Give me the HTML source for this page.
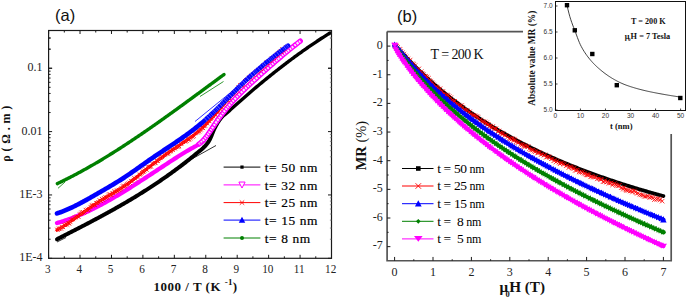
<!DOCTYPE html>
<html><head><meta charset="utf-8"><title>Resistivity and MR plots</title><style>html,body{margin:0;padding:0;background:#fff;}svg{display:block;}</style></head><body>
<svg width="688" height="300" viewBox="0 0 688 300">
<rect width="688" height="300" fill="#fff"/>
<text x="55" y="21.4" font-family='"Liberation Sans", sans-serif' font-size="16.5" fill="#111">(a)</text>
<path d="M57.00,239.22 L58.14,238.64 L59.28,238.06 L60.43,237.48 L61.57,236.89 L62.71,236.31 L63.85,235.73 L65.00,235.15 L66.14,234.56 L67.28,233.98 L68.42,233.40 L69.56,232.81 L70.71,232.23 L71.85,231.64 L72.99,231.06 L74.13,230.47 L75.28,229.88 L76.42,229.29 L77.56,228.70 L78.70,228.12 L79.85,227.52 L80.99,226.93 L82.13,226.34 L83.27,225.75 L84.41,225.15 L85.56,224.56 L86.70,223.96 L87.84,223.36 L88.98,222.76 L90.13,222.16 L91.27,221.56 L92.41,220.96 L93.55,220.35 L94.69,219.74 L95.84,219.14 L96.98,218.53 L98.12,217.92 L99.26,217.30 L100.41,216.69 L101.55,216.07 L102.69,215.45 L103.83,214.83 L104.97,214.21 L106.12,213.58 L107.26,212.96 L108.40,212.33 L109.54,211.70 L110.69,211.06 L111.83,210.43 L112.97,209.79 L114.11,209.15 L115.26,208.51 L116.40,207.86 L117.54,207.22 L118.68,206.57 L119.82,205.91 L120.97,205.26 L122.11,204.60 L123.25,203.94 L124.39,203.28 L125.54,202.61 L126.68,201.94 L127.82,201.27 L128.96,200.59 L130.10,199.91 L131.25,199.23 L132.39,198.55 L133.53,197.86 L134.67,197.17 L135.82,196.47 L136.96,195.78 L138.10,195.08 L139.24,194.37 L140.38,193.66 L141.53,192.95 L142.67,192.24 L143.81,191.52 L144.95,190.80 L146.10,190.07 L147.24,189.34 L148.38,188.61 L149.52,187.87 L150.67,187.13 L151.81,186.38 L152.95,185.63 L154.09,184.88 L155.23,184.12 L156.38,183.36 L157.52,182.59 L158.66,181.82 L159.80,181.05 L160.95,180.27 L162.09,179.48 L163.23,178.69 L164.37,177.90 L165.51,177.10 L166.66,176.30 L167.80,175.50 L168.94,174.68 L170.08,173.87 L171.23,173.05 L172.37,172.22 L173.51,171.39 L174.65,170.56 L175.79,169.72 L176.94,168.87 L178.08,168.02 L179.22,167.16 L180.36,166.30 L181.51,165.44 L182.65,164.56 L183.79,163.69 L184.93,162.80 L186.08,161.92 L187.22,161.02 L188.36,160.12 L189.50,159.22 L190.64,158.31 L191.79,157.39 L192.93,156.47 L194.07,155.54 L195.21,154.61 L196.36,153.67 L197.50,152.73 L198.64,151.78 L199.78,150.86 L200.92,149.94 L202.07,148.98 L203.21,147.92 L204.35,146.78 L205.49,145.56 L206.64,144.25 L207.78,142.78 L208.92,141.12 L210.06,139.04 L211.21,136.45 L212.35,133.60 L213.49,130.76 L214.63,128.22 L215.77,126.07 L216.92,124.02 L218.06,122.09 L219.20,120.32 L220.34,118.77 L221.49,117.48" fill="none" stroke="#000" stroke-width="4.0" stroke-linejoin="round" stroke-linecap="round"/>
<path d="M220.34,118.77 L221.49,117.48 L222.63,116.41 L223.77,115.47 L224.91,114.59 L226.05,113.71 L227.20,112.75 L228.34,111.72 L229.48,110.67 L230.62,109.62 L231.77,108.58 L232.91,107.55 L234.05,106.52 L235.19,105.50 L236.33,104.48 L237.48,103.46 L238.62,102.44 L239.76,101.43 L240.90,100.42 L242.05,99.42 L243.19,98.42 L244.33,97.42 L245.47,96.42 L246.62,95.43 L247.76,94.44 L248.90,93.46 L250.04,92.48 L251.18,91.50 L252.33,90.52 L253.47,89.55 L254.61,88.58 L255.75,87.62 L256.90,86.66 L258.04,85.70 L259.18,84.75 L260.32,83.79 L261.46,82.85 L262.61,81.90 L263.75,80.96 L264.89,80.03 L266.03,79.10 L267.18,78.17 L268.32,77.24 L269.46,76.32 L270.60,75.40 L271.74,74.49 L272.89,73.57 L274.03,72.67 L275.17,71.76 L276.31,70.86 L277.46,69.97 L278.60,69.07 L279.74,68.19 L280.88,67.30 L282.03,66.42 L283.17,65.54 L284.31,64.67 L285.45,63.80 L286.59,62.93 L287.74,62.07 L288.88,61.21 L290.02,60.36 L291.16,59.51 L292.31,58.66 L293.45,57.82 L294.59,56.98 L295.73,56.14 L296.87,55.31 L298.02,54.49 L299.16,53.66 L300.30,52.84 L301.44,52.03 L302.59,51.22 L303.73,50.41 L304.87,49.61 L306.01,48.81 L307.15,48.01 L308.30,47.22 L309.44,46.43 L310.58,45.65 L311.72,44.87 L312.87,44.10 L314.01,43.33 L315.15,42.56 L316.29,41.80 L317.44,41.04 L318.58,40.29 L319.72,39.54 L320.86,38.79 L322.00,38.05 L323.15,37.32 L324.29,36.58 L325.43,35.85 L326.57,35.13 L327.72,34.41 L328.86,33.70 L330.00,32.98" fill="none" stroke="#000" stroke-width="3.4" stroke-linejoin="round" stroke-linecap="round"/>
<path d="M57.00,223.01 L58.22,222.67 L59.45,222.32 L60.67,221.96 L61.89,221.59 L63.11,221.21 L64.34,220.82 L65.56,220.41 L66.78,220.00 L68.00,219.58 L69.23,219.14 L70.45,218.70 L71.67,218.25 L72.89,217.78 L74.12,217.31 L75.34,216.83 L76.56,216.33 L77.78,215.83 L79.01,215.32 L80.23,214.80 L81.45,214.28 L82.67,213.74 L83.90,213.20 L85.12,212.64 L86.34,212.08 L87.57,211.51 L88.79,210.94 L90.01,210.35 L91.23,209.76 L92.46,209.16 L93.68,208.55 L94.90,207.94 L96.12,207.31 L97.35,206.68 L98.57,206.05 L99.79,205.41 L101.01,204.76 L102.24,204.10 L103.46,203.44 L104.68,202.77 L105.90,202.10 L107.13,201.42 L108.35,200.73 L109.57,200.04 L110.79,199.34 L112.02,198.64 L113.24,197.93 L114.46,197.22 L115.69,196.50 L116.91,195.78 L118.13,195.05 L119.35,194.32 L120.58,193.59 L121.80,192.85 L123.02,192.10 L124.24,191.35 L125.47,190.60 L126.69,189.85 L127.91,189.09 L129.13,188.32 L130.36,187.56 L131.58,186.79 L132.80,186.01 L134.02,185.24 L135.25,184.46 L136.47,183.68 L137.69,182.89 L138.92,182.11 L140.14,181.32 L141.36,180.53 L142.58,179.74 L143.81,178.94 L145.03,178.15 L146.25,177.35 L147.47,176.55 L148.70,175.75 L149.92,174.95 L151.14,174.15 L152.36,173.34 L153.59,172.54 L154.81,171.73 L156.03,170.93 L157.25,170.12 L158.48,169.32 L159.70,168.51 L160.92,167.70 L162.14,166.90 L163.37,166.09 L164.59,165.29 L165.81,164.48 L167.04,163.68 L168.26,162.88 L169.48,162.07 L170.70,161.27 L171.93,160.47 L173.15,159.68 L174.37,158.88 L175.59,158.09 L176.82,157.31 L178.04,156.53 L179.26,155.75 L180.48,154.99 L181.71,154.22 L182.93,153.47 L184.15,152.73 L185.37,152.00 L186.60,151.27 L187.82,150.56 L189.04,149.86 L190.26,149.17 L191.49,148.49 L192.71,147.83 L193.93,147.17 L195.16,146.49 L196.38,145.77 L197.60,145.01 L198.82,144.18 L200.05,143.26 L201.27,142.24 L202.49,141.10 L203.71,139.82 L204.94,138.41 L206.16,136.87 L207.38,135.23 L208.60,133.51 L209.83,131.73 L211.05,129.90 L212.27,128.06 L213.49,126.21 L214.72,124.37 L215.94,122.57 L217.16,120.81 L218.38,119.09 L219.61,117.41 L220.83,115.76 L222.05,114.15 L223.28,112.57 L224.50,111.03 L225.72,109.51 L226.94,108.03 L228.17,106.58 L229.39,105.15 L230.61,103.75 L231.83,102.38 L233.06,101.03 L234.28,99.70 L235.50,98.40 L236.72,97.11 L237.95,95.85 L239.17,94.60 L240.39,93.38 L241.61,92.17 L242.84,90.97 L244.06,89.79 L245.28,88.62 L246.51,87.46 L247.73,86.31 L248.95,85.17 L250.17,84.04 L251.40,82.91 L252.62,81.79 L253.84,80.68 L255.06,79.57 L256.29,78.46 L257.51,77.35 L258.73,76.24 L259.95,75.14 L261.18,74.04 L262.40,72.94 L263.62,71.85 L264.84,70.75 L266.07,69.66 L267.29,68.58 L268.51,67.50 L269.73,66.42 L270.96,65.34 L272.18,64.27 L273.40,63.21 L274.63,62.14 L275.85,61.09 L277.07,60.03 L278.29,58.99 L279.52,57.94 L280.74,56.90 L281.96,55.87 L283.18,54.84 L284.41,53.82 L285.63,52.80 L286.85,51.79 L288.07,50.78 L289.30,49.78 L290.52,48.79 L291.74,47.80 L292.96,46.82 L294.19,45.85 L295.41,44.88 L296.63,43.92 L297.85,42.97 L299.08,42.02 L300.30,41.08" fill="none" stroke="#ff00ff" stroke-width="4.3" stroke-linejoin="round" stroke-linecap="round"/>
<path d="M198.82,144.18 L200.05,143.26 L201.27,142.24 L202.49,141.10 L203.71,139.82 L204.94,138.41 L206.16,136.87 L207.38,135.23 L208.60,133.51 L209.83,131.73 L211.05,129.90 L212.27,128.06 L213.49,126.21 L214.72,124.37 L215.94,122.57 L217.16,120.81 L218.38,119.09 L219.61,117.41 L220.83,115.76 L222.05,114.15 L223.28,112.57 L224.50,111.03 L225.72,109.51 L226.94,108.03 L228.17,106.58 L229.39,105.15 L230.61,103.75 L231.83,102.38 L233.06,101.03 L234.28,99.70 L235.50,98.40 L236.72,97.11 L237.95,95.85 L239.17,94.60 L240.39,93.38 L241.61,92.17 L242.84,90.97 L244.06,89.79 L245.28,88.62 L246.51,87.46 L247.73,86.31 L248.95,85.17 L250.17,84.04 L251.40,82.91 L252.62,81.79 L253.84,80.68 L255.06,79.57 L256.29,78.46 L257.51,77.35 L258.73,76.24 L259.95,75.14 L261.18,74.04 L262.40,72.94 L263.62,71.85 L264.84,70.75 L266.07,69.66 L267.29,68.58 L268.51,67.50 L269.73,66.42 L270.96,65.34 L272.18,64.27 L273.40,63.21 L274.63,62.14 L275.85,61.09 L277.07,60.03 L278.29,58.99 L279.52,57.94 L280.74,56.90 L281.96,55.87 L283.18,54.84 L284.41,53.82 L285.63,52.80 L286.85,51.79 L288.07,50.78 L289.30,49.78 L290.52,48.79 L291.74,47.80 L292.96,46.82 L294.19,45.85 L295.41,44.88 L296.63,43.92 L297.85,42.97 L299.08,42.02 L300.30,41.08" fill="none" stroke="#ff00ff" stroke-width="5.2" stroke-linejoin="round" stroke-linecap="round"/>
<path d="M198.82,144.18 L200.05,143.26 L201.27,142.24 L202.49,141.10 L203.71,139.82 L204.94,138.41 L206.16,136.87 L207.38,135.23 L208.60,133.51 L209.83,131.73 L211.05,129.90 L212.27,128.06 L213.49,126.21 L214.72,124.37 L215.94,122.57 L217.16,120.81 L218.38,119.09 L219.61,117.41 L220.83,115.76 L222.05,114.15 L223.28,112.57 L224.50,111.03 L225.72,109.51 L226.94,108.03 L228.17,106.58 L229.39,105.15 L230.61,103.75 L231.83,102.38 L233.06,101.03 L234.28,99.70 L235.50,98.40 L236.72,97.11 L237.95,95.85 L239.17,94.60 L240.39,93.38 L241.61,92.17 L242.84,90.97 L244.06,89.79 L245.28,88.62 L246.51,87.46 L247.73,86.31 L248.95,85.17 L250.17,84.04 L251.40,82.91 L252.62,81.79 L253.84,80.68 L255.06,79.57 L256.29,78.46 L257.51,77.35 L258.73,76.24 L259.95,75.14 L261.18,74.04 L262.40,72.94 L263.62,71.85 L264.84,70.75 L266.07,69.66 L267.29,68.58 L268.51,67.50 L269.73,66.42 L270.96,65.34 L272.18,64.27 L273.40,63.21 L274.63,62.14 L275.85,61.09 L277.07,60.03 L278.29,58.99 L279.52,57.94 L280.74,56.90 L281.96,55.87 L283.18,54.84 L284.41,53.82 L285.63,52.80 L286.85,51.79 L288.07,50.78 L289.30,49.78 L290.52,48.79 L291.74,47.80 L292.96,46.82 L294.19,45.85 L295.41,44.88 L296.63,43.92 L297.85,42.97 L299.08,42.02 L300.30,41.08" fill="none" stroke="#fff" stroke-width="2.3" stroke-dasharray="1.62 0.89 1.95 0.84 1.84 1.02 1.36 1.10 1.34 1.06 1.37 0.85 1.72 1.30 1.42 0.93 1.93 1.37 1.88 1.04 2.28 0.83 2.16 0.97 1.44 0.87 1.61 1.29 1.48 1.15 1.94 1.02 1.85 0.84 1.36 0.92 1.98 1.06 1.61 1.15 1.75 0.98 2.09 1.22 1.54 1.14 1.83 1.33 2.03 0.97 2.28 0.87 1.72 1.25 1.45 1.09 1.34 1.20 2.06 1.14 2.18 0.99 2.00 1.16 1.88 1.07 2.14 1.37 1.77 1.20 1.36 1.22 1.95 1.40 2.12 0.97 1.69 1.20 1.32 1.08" opacity="0.9"/>
<path d="M57.00,230.12 L58.15,229.46 L59.30,228.79 L60.45,228.09 L61.60,227.39 L62.75,226.67 L63.90,225.94 L65.06,225.20 L66.21,224.44 L67.36,223.68 L68.51,222.91 L69.66,222.12 L70.81,221.33 L71.96,220.54 L73.11,219.73 L74.26,218.92 L75.41,218.11 L76.56,217.29 L77.71,216.47 L78.86,215.65 L80.02,214.82 L81.17,213.99 L82.32,213.16 L83.47,212.34 L84.62,211.51 L85.77,210.69 L86.92,209.87 L88.07,209.05 L89.22,208.24 L90.37,207.43 L91.52,206.63 L92.67,205.83 L93.82,205.05 L94.97,204.27 L96.13,203.50 L97.28,202.74 L98.43,201.99 L99.58,201.25 L100.73,200.52 L101.88,199.80 L103.03,199.10 L104.18,198.40 L105.33,197.71 L106.48,197.03 L107.63,196.35 L108.78,195.67 L109.93,195.00 L111.09,194.33 L112.24,193.65 L113.39,192.97 L114.54,192.29 L115.69,191.61 L116.84,190.92 L117.99,190.21 L119.14,189.51 L120.29,188.78 L121.44,188.05 L122.59,187.31 L123.74,186.55 L124.89,185.77 L126.05,184.98 L127.20,184.16 L128.35,183.34 L129.50,182.50 L130.65,181.64 L131.80,180.78 L132.95,179.90 L134.10,179.02 L135.25,178.12 L136.40,177.22 L137.55,176.31 L138.70,175.40 L139.85,174.48 L141.01,173.56 L142.16,172.63 L143.31,171.71 L144.46,170.79 L145.61,169.87 L146.76,168.95 L147.91,168.04 L149.06,167.13 L150.21,166.23 L151.36,165.33 L152.51,164.45 L153.66,163.57 L154.81,162.69 L155.96,161.83 L157.12,160.96 L158.27,160.11 L159.42,159.26 L160.57,158.42 L161.72,157.58 L162.87,156.75 L164.02,155.92 L165.17,155.09 L166.32,154.27 L167.47,153.46 L168.62,152.65 L169.77,151.84 L170.92,151.04 L172.08,150.24 L173.23,149.44 L174.38,148.65 L175.53,147.86 L176.68,147.07 L177.83,146.28 L178.98,145.50 L180.13,144.72 L181.28,143.94 L182.43,143.16 L183.58,142.37 L184.73,141.59 L185.88,140.80 L187.04,140.00 L188.19,139.19 L189.34,138.37 L190.49,137.54 L191.64,136.70 L192.79,135.84 L193.94,134.96 L195.09,134.07 L196.24,133.15 L197.39,132.21 L198.54,131.25 L199.69,130.26 L200.84,129.24 L201.99,128.20 L203.15,127.12 L204.30,126.01 L205.45,124.87 L206.60,123.70 L207.75,122.51 L208.90,121.29 L210.05,120.05 L211.20,118.79 L212.35,117.51 L213.50,116.21 L214.65,114.90 L215.80,113.59 L216.95,112.26 L218.11,110.92 L219.26,109.59 L220.41,108.25 L221.56,106.91 L222.71,105.57 L223.86,104.23 L225.01,102.91 L226.16,101.59 L227.31,100.29 L228.46,98.99 L229.61,97.71 L230.76,96.44 L231.91,95.19 L233.07,93.94 L234.22,92.71 L235.37,91.50 L236.52,90.30 L237.67,89.11 L238.82,87.93 L239.97,86.78 L241.12,85.63 L242.27,84.50 L243.42,83.39 L244.57,82.29 L245.72,81.20 L246.87,80.13 L248.03,79.08 L249.18,78.04 L250.33,77.01 L251.48,75.99 L252.63,74.99 L253.78,73.99 L254.93,73.01 L256.08,72.03 L257.23,71.06 L258.38,70.10 L259.53,69.14 L260.68,68.19 L261.83,67.25 L262.98,66.30 L264.14,65.36 L265.29,64.43 L266.44,63.49 L267.59,62.56 L268.74,61.62 L269.89,60.68 L271.04,59.75 L272.19,58.80 L273.34,57.86 L274.49,56.91 L275.64,55.96 L276.79,55.00 L277.94,54.03 L279.10,53.05 L280.25,52.07 L281.40,51.08 L282.55,50.08 L283.70,49.06 L284.85,48.04 L286.00,47.00" fill="none" stroke="#ff0000" stroke-width="3.0" stroke-linejoin="round" stroke-linecap="round"/>
<path d="M55.2,227.7l3.5,3.5M55.2,231.2l3.5,-3.5M56.1,228.4l3.5,3.5M56.1,231.9l3.5,-3.5M56.6,226.7l4.3,4.3M56.6,231.0l4.3,-4.3M57.7,226.5l3.9,3.9M57.7,230.5l3.9,-3.9M58.8,226.3l4.3,4.3M58.8,230.6l4.3,-4.3M60.0,225.1l3.8,3.8M60.0,228.9l3.8,-3.8M61.5,225.5l3.6,3.6M61.5,229.0l3.6,-3.6M62.3,223.4l3.6,3.6M62.3,227.1l3.6,-3.6M63.4,223.4l3.7,3.7M63.4,227.1l3.7,-3.7M64.2,222.5l3.8,3.8M64.2,226.3l3.8,-3.8M65.2,222.6l4.1,4.1M65.2,226.7l4.1,-4.1M66.3,221.2l4.1,4.1M66.3,225.3l4.1,-4.1M67.1,221.2l4.2,4.2M67.1,225.4l4.2,-4.2M68.6,220.3l3.8,3.8M68.6,224.1l3.8,-3.8M69.5,218.0l4.0,4.0M69.5,222.1l4.0,-4.0M70.5,217.6l3.6,3.6M70.5,221.2l3.6,-3.6M71.5,217.6l3.5,3.5M71.5,221.0l3.5,-3.5M72.3,216.6l3.5,3.5M72.3,220.1l3.5,-3.5M72.9,215.3l4.3,4.3M72.9,219.5l4.3,-4.3M74.4,215.0l3.7,3.7M74.4,218.7l3.7,-3.7M75.5,214.8l3.5,3.5M75.5,218.3l3.5,-3.5M76.6,214.9l3.9,3.9M76.6,218.8l3.9,-3.9M77.9,212.5l3.5,3.5M77.9,216.0l3.5,-3.5M78.5,211.8l4.2,4.2M78.5,216.0l4.2,-4.2M79.4,210.6l4.4,4.4M79.4,214.9l4.4,-4.4M80.7,210.2l3.9,3.9M80.7,214.2l3.9,-3.9M81.3,210.2l4.4,4.4M81.3,214.6l4.4,-4.4M83.0,210.0l3.7,3.7M83.0,213.6l3.7,-3.7M83.7,207.9l4.2,4.2M83.7,212.1l4.2,-4.2M85.1,208.6l3.7,3.7M85.1,212.3l3.7,-3.7M85.7,207.6l4.4,4.4M85.7,212.0l4.4,-4.4M87.1,206.8l4.2,4.2M87.1,211.0l4.2,-4.2M88.5,204.9l3.9,3.9M88.5,208.8l3.9,-3.9M89.7,204.0l3.4,3.4M89.7,207.5l3.4,-3.4M90.4,203.5l4.1,4.1M90.4,207.6l4.1,-4.1M91.6,202.8l4.3,4.3M91.6,207.1l4.3,-4.3M93.3,203.2l3.8,3.8M93.3,206.9l3.8,-3.8M94.3,201.2l3.6,3.6M94.3,204.8l3.6,-3.6M94.9,201.0l4.3,4.3M94.9,205.3l4.3,-4.3M96.3,200.0l4.1,4.1M96.3,204.0l4.1,-4.1M97.6,198.4l4.1,4.1M97.6,202.4l4.1,-4.1M98.9,198.9l4.2,4.2M98.9,203.0l4.2,-4.2M99.9,197.0l4.2,4.2M99.9,201.2l4.2,-4.2M100.8,197.5l4.4,4.4M100.8,201.9l4.4,-4.4M101.9,196.1l4.3,4.3M101.9,200.4l4.3,-4.3M103.5,195.3l3.5,3.5M103.5,198.8l3.5,-3.5M104.1,195.9l4.2,4.2M104.1,200.1l4.2,-4.2M104.9,195.1l4.4,4.4M104.9,199.5l4.4,-4.4M106.3,193.7l3.9,3.9M106.3,197.6l3.9,-3.9M107.0,192.3l4.4,4.4M107.0,196.7l4.4,-4.4M108.2,192.6l4.3,4.3M108.2,197.0l4.3,-4.3M109.3,192.8l4.2,4.2M109.3,197.0l4.2,-4.2M110.5,191.2l3.7,3.7M110.5,194.9l3.7,-3.7M111.5,191.4l3.7,3.7M111.5,195.0l3.7,-3.7M112.2,189.5l4.3,4.3M112.2,193.8l4.3,-4.3M113.4,189.7l4.0,4.0M113.4,193.7l4.0,-4.0M114.5,188.7l4.3,4.3M114.5,193.0l4.3,-4.3M115.8,188.4l3.9,3.9M115.8,192.4l3.9,-3.9M116.8,187.9l3.6,3.6M116.8,191.5l3.6,-3.6M117.6,188.2l3.6,3.6M117.6,191.7l3.6,-3.6M118.5,187.1l4.0,4.0M118.5,191.1l4.0,-4.0M119.5,186.1l4.0,4.0M119.5,190.0l4.0,-4.0M120.8,184.4l4.0,4.0M120.8,188.4l4.0,-4.0M121.6,184.0l4.2,4.2M121.6,188.2l4.2,-4.2M122.7,183.9l4.2,4.2M122.7,188.0l4.2,-4.2M124.1,182.8l4.0,4.0M124.1,186.8l4.0,-4.0M125.2,182.1l4.1,4.1M125.2,186.2l4.1,-4.1M126.4,181.5l3.9,3.9M126.4,185.4l3.9,-3.9M127.6,180.6l4.3,4.3M127.6,184.9l4.3,-4.3M129.1,178.9l4.0,4.0M129.1,182.8l4.0,-4.0M130.7,179.2l3.5,3.5M130.7,182.8l3.5,-3.5M131.6,177.8l3.5,3.5M131.6,181.3l3.5,-3.5M132.2,176.0l4.1,4.1M132.2,180.1l4.1,-4.1M133.7,176.9l3.6,3.6M133.7,180.5l3.6,-3.6M135.0,175.5l3.5,3.5M135.0,179.0l3.5,-3.5M136.3,175.0l3.6,3.6M136.3,178.6l3.6,-3.6M137.5,172.7l3.9,3.9M137.5,176.5l3.9,-3.9M139.1,172.6l3.6,3.6M139.1,176.1l3.6,-3.6M140.0,171.0l3.7,3.7M140.0,174.7l3.7,-3.7M140.8,169.7l4.1,4.1M140.8,173.8l4.1,-4.1M141.7,169.6l3.8,3.8M141.7,173.5l3.8,-3.8M142.4,168.5l4.0,4.0M142.4,172.5l4.0,-4.0M143.3,166.9l4.4,4.4M143.3,171.2l4.4,-4.4M145.1,168.1l3.5,3.5M145.1,171.6l3.5,-3.5M145.7,165.1l4.2,4.2M145.7,169.3l4.2,-4.2M146.8,164.7l3.8,3.8M146.8,168.6l3.8,-3.8M148.3,165.1l3.7,3.7M148.3,168.8l3.7,-3.7M149.0,164.5l4.0,4.0M149.0,168.5l4.0,-4.0M150.5,162.1l3.5,3.5M150.5,165.6l3.5,-3.5M151.7,161.9l3.5,3.5M151.7,165.4l3.5,-3.5M152.7,160.9l4.2,4.2M152.7,165.1l4.2,-4.2M153.9,161.1l3.5,3.5M153.9,164.5l3.5,-3.5M155.1,159.1l3.7,3.7M155.1,162.9l3.7,-3.7M156.2,159.3l3.7,3.7M156.2,162.9l3.7,-3.7M157.1,157.8l3.6,3.6M157.1,161.5l3.6,-3.6M158.1,156.6l3.5,3.5M158.1,160.0l3.5,-3.5M158.9,156.1l3.7,3.7M158.9,159.8l3.7,-3.7M160.0,155.0l3.9,3.9M160.0,158.9l3.9,-3.9M161.2,154.7l3.4,3.4M161.2,158.1l3.4,-3.4M161.8,153.0l4.1,4.1M161.8,157.1l4.1,-4.1M163.0,152.7l3.9,3.9M163.0,156.5l3.9,-3.9M164.2,151.4l4.2,4.2M164.2,155.6l4.2,-4.2M165.3,151.4l4.2,4.2M165.3,155.6l4.2,-4.2M166.4,150.8l4.1,4.1M166.4,154.8l4.1,-4.1M167.7,149.4l4.2,4.2M167.7,153.6l4.2,-4.2M169.1,149.3l3.8,3.8M169.1,153.1l3.8,-3.8M170.3,147.6l3.5,3.5M170.3,151.1l3.5,-3.5M171.1,148.3l3.7,3.7M171.1,152.0l3.7,-3.7M171.7,146.1l4.2,4.2M171.7,150.3l4.2,-4.2M173.3,146.6l3.7,3.7M173.3,150.3l3.7,-3.7M174.1,145.1l3.9,3.9M174.1,149.0l3.9,-3.9M175.1,144.9l3.7,3.7M175.1,148.6l3.7,-3.7M176.4,144.9l3.9,3.9M176.4,148.9l3.9,-3.9M177.4,144.4l3.7,3.7M177.4,148.1l3.7,-3.7M178.4,141.7l3.8,3.8M178.4,145.5l3.8,-3.8M179.6,142.1l3.6,3.6M179.6,145.7l3.6,-3.6M180.7,140.3l3.7,3.7M180.7,144.0l3.7,-3.7M181.6,140.6l3.4,3.4M181.6,144.1l3.4,-3.4M182.3,139.8l3.6,3.6M182.3,143.4l3.6,-3.6M183.2,139.2l4.2,4.2M183.2,143.3l4.2,-4.2M184.4,138.7l4.3,4.3M184.4,142.9l4.3,-4.3M185.3,137.1l4.4,4.4M185.3,141.5l4.4,-4.4M186.4,137.5l4.0,4.0M186.4,141.5l4.0,-4.0M187.1,137.0l4.3,4.3M187.1,141.3l4.3,-4.3M188.3,136.0l4.2,4.2M188.3,140.2l4.2,-4.2M189.4,135.0l3.9,3.9M189.4,138.9l3.9,-3.9M190.5,134.5l4.2,4.2M190.5,138.7l4.2,-4.2M191.7,133.8l4.1,4.1M191.7,137.9l4.1,-4.1M193.3,131.9l3.4,3.4M193.3,135.3l3.4,-3.4M194.1,131.4l3.5,3.5M194.1,134.9l3.5,-3.5M195.1,130.5l4.0,4.0M195.1,134.5l4.0,-4.0M196.4,129.8l3.9,3.9M196.4,133.7l3.9,-3.9M197.1,129.3l4.1,4.1M197.1,133.4l4.1,-4.1M198.2,127.8l4.1,4.1M198.2,131.9l4.1,-4.1M199.2,127.7l3.7,3.7M199.2,131.3l3.7,-3.7M199.9,125.7l4.1,4.1M199.9,129.9l4.1,-4.1M200.7,125.7l4.4,4.4M200.7,130.1l4.4,-4.4M202.0,124.2l3.9,3.9M202.0,128.1l3.9,-3.9M203.1,123.7l4.0,4.0M203.1,127.7l4.0,-4.0M204.6,121.4l3.5,3.5M204.6,124.9l3.5,-3.5M205.4,121.6l3.7,3.7M205.4,125.3l3.7,-3.7M206.7,119.1l3.5,3.5M206.7,122.5l3.5,-3.5M207.3,119.1l4.1,4.1M207.3,123.2l4.1,-4.1M208.6,117.1l3.9,3.9M208.6,121.0l3.9,-3.9M209.9,116.4l3.5,3.5M209.9,120.0l3.5,-3.5M210.8,114.0l4.4,4.4M210.8,118.4l4.4,-4.4M212.4,112.3l3.9,3.9M212.4,116.2l3.9,-3.9M213.7,112.8l3.8,3.8M213.7,116.6l3.8,-3.8M214.5,109.9l4.3,4.3M214.5,114.2l4.3,-4.3M215.8,110.0l3.5,3.5M215.8,113.5l3.5,-3.5M216.9,109.4l3.5,3.5M216.9,112.9l3.5,-3.5M217.8,106.6l4.3,4.3M217.8,110.9l4.3,-4.3M219.0,104.7l4.3,4.3M219.0,109.0l4.3,-4.3M220.6,103.4l3.4,3.4M220.6,106.8l3.4,-3.4M221.5,102.9l3.7,3.7M221.5,106.6l3.7,-3.7M222.4,101.6l3.7,3.7M222.4,105.3l3.7,-3.7M223.5,99.2l4.2,4.2M223.5,103.4l4.2,-4.2M224.7,97.9l4.3,4.3M224.7,102.2l4.3,-4.3M226.2,98.4l3.7,3.7M226.2,102.1l3.7,-3.7M226.9,95.9l4.4,4.4M226.9,100.3l4.4,-4.4M228.3,94.8l3.8,3.8M228.3,98.6l3.8,-3.8M229.5,93.3l3.5,3.5M229.5,96.8l3.5,-3.5M230.4,91.9l4.3,4.3M230.4,96.3l4.3,-4.3M231.5,91.1l3.9,3.9M231.5,95.0l3.9,-3.9M232.2,90.1l4.4,4.4M232.2,94.5l4.4,-4.4M233.7,89.7l4.0,4.0M233.7,93.8l4.0,-4.0M235.1,88.6l3.9,3.9M235.1,92.6l3.9,-3.9M236.2,85.5l4.1,4.1M236.2,89.6l4.1,-4.1M237.3,85.9l4.0,4.0M237.3,89.9l4.0,-4.0M238.2,83.3l4.3,4.3M238.2,87.7l4.3,-4.3M239.3,83.6l3.7,3.7M239.3,87.3l3.7,-3.7M240.0,82.9l4.4,4.4M240.0,87.2l4.4,-4.4M241.3,82.1l3.7,3.7M241.3,85.8l3.7,-3.7M242.5,80.6l3.6,3.6M242.5,84.1l3.6,-3.6M243.0,79.0l4.3,4.3M243.0,83.3l4.3,-4.3M244.1,78.0l4.3,4.3M244.1,82.3l4.3,-4.3M245.9,77.5l3.5,3.5M245.9,81.1l3.5,-3.5M246.7,75.9l3.7,3.7M246.7,79.6l3.7,-3.7M247.6,75.4l3.7,3.7M247.6,79.1l3.7,-3.7M248.5,75.5l4.1,4.1M248.5,79.6l4.1,-4.1M249.7,73.7l3.9,3.9M249.7,77.6l3.9,-3.9M250.9,72.9l3.5,3.5M250.9,76.4l3.5,-3.5M251.9,73.3l3.5,3.5M251.9,76.8l3.5,-3.5M252.6,71.3l4.3,4.3M252.6,75.6l4.3,-4.3M253.8,70.1l3.6,3.6M253.8,73.7l3.6,-3.6M254.5,69.2l4.4,4.4M254.5,73.6l4.4,-4.4M256.3,69.4l3.4,3.4M256.3,72.9l3.4,-3.4M256.7,68.0l4.3,4.3M256.7,72.3l4.3,-4.3M258.2,67.3l3.4,3.4M258.2,70.7l3.4,-3.4M258.8,66.7l4.2,4.2M258.8,70.9l4.2,-4.2M260.4,66.0l3.6,3.6M260.4,69.7l3.6,-3.6M261.2,63.5l3.9,3.9M261.2,67.5l3.9,-3.9M262.3,64.0l4.1,4.1M262.3,68.1l4.1,-4.1M263.6,62.8l3.9,3.9M263.6,66.7l3.9,-3.9M264.6,60.3l4.2,4.2M264.6,64.5l4.2,-4.2M265.6,61.4l4.0,4.0M265.6,65.4l4.0,-4.0M266.8,59.2l3.7,3.7M266.8,62.8l3.7,-3.7M268.0,59.4l3.5,3.5M268.0,62.9l3.5,-3.5M268.6,58.2l4.0,4.0M268.6,62.1l4.0,-4.0M269.6,56.7l4.0,4.0M269.6,60.7l4.0,-4.0M270.5,56.3l3.9,3.9M270.5,60.1l3.9,-3.9M271.7,55.6l4.3,4.3M271.7,59.9l4.3,-4.3M273.1,54.2l3.6,3.6M273.1,57.9l3.6,-3.6M274.4,54.0l3.7,3.7M274.4,57.7l3.7,-3.7M275.1,52.7l4.1,4.1M275.1,56.8l4.1,-4.1M276.1,51.3l4.1,4.1M276.1,55.4l4.1,-4.1M277.8,50.4l3.4,3.4M277.8,53.9l3.4,-3.4M278.5,49.6l4.1,4.1M278.5,53.7l4.1,-4.1M279.4,49.6l4.1,4.1M279.4,53.7l4.1,-4.1M280.3,47.3l4.4,4.4M280.3,51.7l4.4,-4.4M281.7,48.1l3.6,3.6M281.7,51.7l3.6,-3.6M282.6,47.1l3.7,3.7M282.6,50.8l3.7,-3.7M284.0,45.4l3.6,3.6M284.0,49.0l3.6,-3.6" stroke="#ff0000" stroke-width="0.8" fill="none"/>
<path d="M57.00,230.12 L58.15,229.46 L59.30,228.79 L60.45,228.09 L61.60,227.39 L62.75,226.67 L63.90,225.94 L65.06,225.20 L66.21,224.44 L67.36,223.68 L68.51,222.91 L69.66,222.12 L70.81,221.33 L71.96,220.54 L73.11,219.73 L74.26,218.92 L75.41,218.11 L76.56,217.29 L77.71,216.47 L78.86,215.65 L80.02,214.82 L81.17,213.99 L82.32,213.16 L83.47,212.34 L84.62,211.51 L85.77,210.69 L86.92,209.87 L88.07,209.05 L89.22,208.24 L90.37,207.43 L91.52,206.63 L92.67,205.83 L93.82,205.05 L94.97,204.27 L96.13,203.50 L97.28,202.74 L98.43,201.99 L99.58,201.25 L100.73,200.52 L101.88,199.80 L103.03,199.10 L104.18,198.40 L105.33,197.71 L106.48,197.03 L107.63,196.35 L108.78,195.67 L109.93,195.00 L111.09,194.33 L112.24,193.65 L113.39,192.97 L114.54,192.29 L115.69,191.61 L116.84,190.92 L117.99,190.21 L119.14,189.51 L120.29,188.78 L121.44,188.05 L122.59,187.31 L123.74,186.55 L124.89,185.77 L126.05,184.98 L127.20,184.16 L128.35,183.34 L129.50,182.50 L130.65,181.64 L131.80,180.78 L132.95,179.90 L134.10,179.02 L135.25,178.12 L136.40,177.22 L137.55,176.31 L138.70,175.40 L139.85,174.48 L141.01,173.56 L142.16,172.63 L143.31,171.71 L144.46,170.79 L145.61,169.87 L146.76,168.95 L147.91,168.04 L149.06,167.13 L150.21,166.23 L151.36,165.33 L152.51,164.45 L153.66,163.57 L154.81,162.69 L155.96,161.83 L157.12,160.96 L158.27,160.11 L159.42,159.26 L160.57,158.42 L161.72,157.58 L162.87,156.75 L164.02,155.92 L165.17,155.09 L166.32,154.27 L167.47,153.46 L168.62,152.65 L169.77,151.84 L170.92,151.04 L172.08,150.24 L173.23,149.44 L174.38,148.65 L175.53,147.86 L176.68,147.07 L177.83,146.28 L178.98,145.50 L180.13,144.72 L181.28,143.94 L182.43,143.16 L183.58,142.37 L184.73,141.59 L185.88,140.80 L187.04,140.00 L188.19,139.19 L189.34,138.37 L190.49,137.54 L191.64,136.70 L192.79,135.84 L193.94,134.96 L195.09,134.07 L196.24,133.15 L197.39,132.21 L198.54,131.25 L199.69,130.26 L200.84,129.24 L201.99,128.20 L203.15,127.12 L204.30,126.01 L205.45,124.87 L206.60,123.70 L207.75,122.51 L208.90,121.29 L210.05,120.05 L211.20,118.79 L212.35,117.51 L213.50,116.21 L214.65,114.90" fill="none" stroke="#fff" stroke-width="2.2" stroke-dasharray="0.51 1.40 0.77 0.78 0.50 0.86 0.79 0.77 0.33 0.67 0.50 1.68 0.74 1.48 0.80 1.72 0.46 0.82 0.77 1.50 0.32 1.40 0.49 1.05 0.47 0.80 0.30 0.94 0.48 1.75 0.36 1.76 0.40 1.03 0.71 1.59 0.52 0.66 0.54 1.05 0.76 0.83 0.48 1.68 0.32 1.09 0.71 1.52 0.32 0.64 0.33 1.70 0.43 1.50 0.75 1.01 0.44 1.75 0.61 0.91 0.66 0.98 0.44 0.60 0.68 1.70 0.62 1.73 0.31 0.88 0.54 1.75 0.78 1.06 0.43 1.12 0.55 1.71 0.39 1.56" opacity="0.2"/>
<path d="M57.00,213.43 L58.16,213.05 L59.32,212.65 L60.48,212.23 L61.64,211.80 L62.80,211.36 L63.96,210.90 L65.13,210.43 L66.29,209.94 L67.45,209.45 L68.61,208.94 L69.77,208.41 L70.93,207.88 L72.09,207.34 L73.25,206.78 L74.41,206.22 L75.57,205.64 L76.73,205.06 L77.89,204.47 L79.06,203.87 L80.22,203.26 L81.38,202.64 L82.54,202.02 L83.70,201.39 L84.86,200.76 L86.02,200.12 L87.18,199.47 L88.34,198.82 L89.50,198.17 L90.66,197.51 L91.82,196.85 L92.98,196.18 L94.15,195.52 L95.31,194.85 L96.47,194.18 L97.63,193.51 L98.79,192.83 L99.95,192.16 L101.11,191.49 L102.27,190.82 L103.43,190.15 L104.59,189.47 L105.75,188.80 L106.91,188.12 L108.08,187.44 L109.24,186.76 L110.40,186.07 L111.56,185.38 L112.72,184.69 L113.88,183.99 L115.04,183.29 L116.20,182.59 L117.36,181.87 L118.52,181.16 L119.68,180.43 L120.84,179.70 L122.01,178.96 L123.17,178.21 L124.33,177.46 L125.49,176.70 L126.65,175.92 L127.81,175.14 L128.97,174.36 L130.13,173.56 L131.29,172.77 L132.45,171.96 L133.61,171.15 L134.77,170.34 L135.93,169.52 L137.10,168.70 L138.26,167.88 L139.42,167.06 L140.58,166.23 L141.74,165.41 L142.90,164.59 L144.06,163.76 L145.22,162.94 L146.38,162.13 L147.54,161.31 L148.70,160.50 L149.86,159.69 L151.03,158.89 L152.19,158.09 L153.35,157.30 L154.51,156.51 L155.67,155.72 L156.83,154.94 L157.99,154.16 L159.15,153.39 L160.31,152.61 L161.47,151.84 L162.63,151.06 L163.79,150.29 L164.95,149.52 L166.12,148.75 L167.28,147.98 L168.44,147.21 L169.60,146.43 L170.76,145.66 L171.92,144.88 L173.08,144.11 L174.24,143.33 L175.40,142.54 L176.56,141.75 L177.72,140.96 L178.88,140.17 L180.05,139.37 L181.21,138.56 L182.37,137.75 L183.53,136.94 L184.69,136.12 L185.85,135.29 L187.01,134.45 L188.17,133.60 L189.33,132.75 L190.49,131.89 L191.65,131.02 L192.81,130.13 L193.97,129.24 L195.14,128.34 L196.30,127.42 L197.46,126.49 L198.62,125.55 L199.78,124.60 L200.94,123.63 L202.10,122.65 L203.26,121.66 L204.42,120.64 L205.58,119.62 L206.74,118.58 L207.90,117.53 L209.07,116.46 L210.23,115.38 L211.39,114.29 L212.55,113.20 L213.71,112.09 L214.87,110.97 L216.03,109.85 L217.19,108.71 L218.35,107.57 L219.51,106.43 L220.67,105.28 L221.83,104.12 L222.99,102.96 L224.16,101.80 L225.32,100.63 L226.48,99.47 L227.64,98.30 L228.80,97.13 L229.96,95.96 L231.12,94.79 L232.28,93.63 L233.44,92.46 L234.60,91.30 L235.76,90.15 L236.92,89.00 L238.09,87.85 L239.25,86.71 L240.41,85.58 L241.57,84.45 L242.73,83.33 L243.89,82.22 L245.05,81.12 L246.21,80.03 L247.37,78.95 L248.53,77.88 L249.69,76.82 L250.85,75.77 L252.02,74.73 L253.18,73.70 L254.34,72.67 L255.50,71.66 L256.66,70.65 L257.82,69.65 L258.98,68.66 L260.14,67.67 L261.30,66.69 L262.46,65.72 L263.62,64.75 L264.78,63.80 L265.94,62.84 L267.11,61.89 L268.27,60.95 L269.43,60.02 L270.59,59.09 L271.75,58.16 L272.91,57.24 L274.07,56.32 L275.23,55.41 L276.39,54.50 L277.55,53.59 L278.71,52.69 L279.87,51.79 L281.04,50.89 L282.20,50.00 L283.36,49.11 L284.52,48.22 L285.68,47.33 L286.84,46.44 L288.00,45.56" fill="none" stroke="#0000ff" stroke-width="4.6" stroke-linejoin="round" stroke-linecap="round"/>
<path d="M205.58,119.62 L206.74,118.58 L207.90,117.53 L209.07,116.46 L210.23,115.38 L211.39,114.29 L212.55,113.20 L213.71,112.09 L214.87,110.97 L216.03,109.85 L217.19,108.71 L218.35,107.57 L219.51,106.43 L220.67,105.28 L221.83,104.12 L222.99,102.96 L224.16,101.80 L225.32,100.63 L226.48,99.47 L227.64,98.30 L228.80,97.13 L229.96,95.96 L231.12,94.79 L232.28,93.63 L233.44,92.46 L234.60,91.30 L235.76,90.15 L236.92,89.00 L238.09,87.85 L239.25,86.71 L240.41,85.58 L241.57,84.45 L242.73,83.33 L243.89,82.22 L245.05,81.12 L246.21,80.03 L247.37,78.95 L248.53,77.88 L249.69,76.82 L250.85,75.77 L252.02,74.73 L253.18,73.70 L254.34,72.67 L255.50,71.66 L256.66,70.65 L257.82,69.65 L258.98,68.66 L260.14,67.67 L261.30,66.69 L262.46,65.72 L263.62,64.75 L264.78,63.80 L265.94,62.84 L267.11,61.89 L268.27,60.95 L269.43,60.02 L270.59,59.09 L271.75,58.16 L272.91,57.24 L274.07,56.32 L275.23,55.41 L276.39,54.50 L277.55,53.59 L278.71,52.69 L279.87,51.79 L281.04,50.89 L282.20,50.00 L283.36,49.11 L284.52,48.22 L285.68,47.33 L286.84,46.44 L288.00,45.56" fill="none" stroke="#fff" stroke-width="4.6" stroke-dasharray="0.67 2.32 0.69 1.97 0.46 1.51 0.48 2.25 0.34 1.32 0.68 1.40 0.33 1.05 0.58 1.52 0.79 2.41 0.79 1.42 0.34 1.15 0.55 2.14 0.52 1.37 0.51 1.99 0.64 2.20 0.72 2.06 0.36 2.35 0.45 1.91 0.49 2.18 0.40 1.40 0.42 1.25 0.74 1.93 0.46 1.63 0.80 1.81 0.42 2.29 0.63 2.59 0.35 1.76 0.71 2.34 0.76 1.06 0.45 1.19 0.39 2.56 0.59 2.49 0.49 2.39 0.52 1.42 0.69 2.51 0.35 1.95 0.61 1.35 0.48 1.23 0.40 1.41 0.60 2.04" opacity="0.4"/>
<path d="M57.30,183.61 L58.14,183.22 L58.98,182.82 L59.81,182.42 L60.65,182.02 L61.49,181.62 L62.33,181.21 L63.16,180.80 L64.00,180.39 L64.84,179.98 L65.68,179.56 L66.51,179.14 L67.35,178.72 L68.19,178.30 L69.03,177.88 L69.87,177.45 L70.70,177.02 L71.54,176.59 L72.38,176.16 L73.22,175.72 L74.05,175.28 L74.89,174.84 L75.73,174.40 L76.57,173.95 L77.40,173.51 L78.24,173.06 L79.08,172.61 L79.92,172.15 L80.76,171.70 L81.59,171.24 L82.43,170.78 L83.27,170.32 L84.11,169.86 L84.94,169.39 L85.78,168.93 L86.62,168.46 L87.46,167.98 L88.29,167.51 L89.13,167.04 L89.97,166.56 L90.81,166.08 L91.65,165.60 L92.48,165.12 L93.32,164.63 L94.16,164.14 L95.00,163.66 L95.83,163.16 L96.67,162.67 L97.51,162.18 L98.35,161.68 L99.18,161.18 L100.02,160.68 L100.86,160.18 L101.70,159.68 L102.54,159.18 L103.37,158.67 L104.21,158.16 L105.05,157.65 L105.89,157.14 L106.72,156.63 L107.56,156.11 L108.40,155.59 L109.24,155.08 L110.07,154.56 L110.91,154.04 L111.75,153.51 L112.59,152.99 L113.43,152.46 L114.26,151.93 L115.10,151.40 L115.94,150.87 L116.78,150.34 L117.61,149.81 L118.45,149.27 L119.29,148.74 L120.13,148.20 L120.96,147.66 L121.80,147.12 L122.64,146.57 L123.48,146.03 L124.32,145.48 L125.15,144.94 L125.99,144.39 L126.83,143.84 L127.67,143.29 L128.50,142.74 L129.34,142.18 L130.18,141.63 L131.02,141.07 L131.85,140.52 L132.69,139.96 L133.53,139.40 L134.37,138.84 L135.21,138.28 L136.04,137.71 L136.88,137.15 L137.72,136.58 L138.56,136.01 L139.39,135.45 L140.23,134.88 L141.07,134.31 L141.91,133.74 L142.74,133.16 L143.58,132.59 L144.42,132.01 L145.26,131.44 L146.09,130.86 L146.93,130.28 L147.77,129.71 L148.61,129.13 L149.45,128.54 L150.28,127.96 L151.12,127.38 L151.96,126.80 L152.80,126.21 L153.63,125.63 L154.47,125.04 L155.31,124.45 L156.15,123.86 L156.98,123.27 L157.82,122.68 L158.66,122.09 L159.50,121.50 L160.34,120.91 L161.17,120.32 L162.01,119.72 L162.85,119.13 L163.69,118.53 L164.52,117.94 L165.36,117.34 L166.20,116.74 L167.04,116.14 L167.87,115.54 L168.71,114.94 L169.55,114.34 L170.39,113.74 L171.23,113.14 L172.06,112.54 L172.90,111.93 L173.74,111.33 L174.58,110.73 L175.41,110.12 L176.25,109.52 L177.09,108.91 L177.93,108.30 L178.76,107.70 L179.60,107.09 L180.44,106.48 L181.28,105.87 L182.12,105.26 L182.95,104.65 L183.79,104.04 L184.63,103.43 L185.47,102.82 L186.30,102.21 L187.14,101.60 L187.98,100.99 L188.82,100.38 L189.65,99.76 L190.49,99.15 L191.33,98.54 L192.17,97.93 L193.01,97.31 L193.84,96.70 L194.68,96.08 L195.52,95.47 L196.36,94.85 L197.19,94.24 L198.03,93.62 L198.87,93.01 L199.71,92.39 L200.54,91.78 L201.38,91.16 L202.22,90.54 L203.06,89.93 L203.90,89.31 L204.73,88.70 L205.57,88.08 L206.41,87.46 L207.25,86.85 L208.08,86.23 L208.92,85.61 L209.76,85.00 L210.60,84.38 L211.43,83.76 L212.27,83.14 L213.11,82.53 L213.95,81.91 L214.79,81.29 L215.62,80.68 L216.46,80.06 L217.30,79.45 L218.14,78.83 L218.97,78.21 L219.81,77.60 L220.65,76.98 L221.49,76.37 L222.32,75.75 L223.16,75.13 L224.00,74.52" fill="none" stroke="#008000" stroke-width="3.4" stroke-linejoin="round" stroke-linecap="round"/>
<path d="M58,188.3 L65,182" stroke="#008000" stroke-width="0.8" fill="none"/>
<path d="M200,96.5 L223.5,81.5" stroke="#008000" stroke-width="0.8" fill="none"/>
<path d="M57,242 L66,237.5" stroke="#000" stroke-width="0.8" fill="none"/>
<path d="M190,160 L216,145.5" stroke="#000" stroke-width="0.8" fill="none"/>
<path d="M195,121.5 L230,93" stroke="#0000ff" stroke-width="0.8" fill="none"/>
<path d="M196,145.5 L206,141" stroke="#ff00ff" stroke-width="0.8" fill="none"/>
<rect x="48.6" y="30.5" width="282.9" height="227.8" fill="none" stroke="#1a1a1a" stroke-width="1.2"/>
<path d="M48.60,258.3 v-3.5 M48.60,30.5 v3.5 M80.03,258.3 v-3.5 M80.03,30.5 v3.5 M111.47,258.3 v-3.5 M111.47,30.5 v3.5 M142.90,258.3 v-3.5 M142.90,30.5 v3.5 M174.33,258.3 v-3.5 M174.33,30.5 v3.5 M205.77,258.3 v-3.5 M205.77,30.5 v3.5 M237.20,258.3 v-3.5 M237.20,30.5 v3.5 M268.63,258.3 v-3.5 M268.63,30.5 v3.5 M300.07,258.3 v-3.5 M300.07,30.5 v3.5 M331.50,258.3 v-3.5 M331.50,30.5 v3.5 M64.32,258.3 v-2 M64.32,30.5 v2 M95.75,258.3 v-2 M95.75,30.5 v2 M127.18,258.3 v-2 M127.18,30.5 v2 M158.62,258.3 v-2 M158.62,30.5 v2 M190.05,258.3 v-2 M190.05,30.5 v2 M221.48,258.3 v-2 M221.48,30.5 v2 M252.92,258.3 v-2 M252.92,30.5 v2 M284.35,258.3 v-2 M284.35,30.5 v2 M315.78,258.3 v-2 M315.78,30.5 v2 M48.6,258.30 h3.5 M331.5,258.30 h-3.5 M48.6,239.23 h2 M48.6,228.07 h2 M48.6,220.16 h2 M48.6,214.02 h2 M48.6,209.00 h2 M48.6,204.76 h2 M48.6,201.09 h2 M48.6,197.85 h2 M48.6,194.95 h3.5 M331.5,194.95 h-3.5 M48.6,175.88 h2 M48.6,164.72 h2 M48.6,156.81 h2 M48.6,150.67 h2 M48.6,145.65 h2 M48.6,141.41 h2 M48.6,137.74 h2 M48.6,134.50 h2 M48.6,131.60 h3.5 M331.5,131.60 h-3.5 M48.6,112.53 h2 M48.6,101.37 h2 M48.6,93.46 h2 M48.6,87.32 h2 M48.6,82.30 h2 M48.6,78.06 h2 M48.6,74.39 h2 M48.6,71.15 h2 M48.6,68.25 h3.5 M331.5,68.25 h-3.5 M48.6,49.18 h2 M48.6,38.02 h2 M48.6,68.25 h3.5 M331.5,68.25 h-3.5 M48.6,49.18 h2 M48.6,38.02 h2" stroke="#1a1a1a" stroke-width="1" fill="none"/>
<path d="M331.5,239.23 h-1.6 M331.5,228.07 h-1.6 M331.5,220.16 h-1.6 M331.5,214.02 h-1.6 M331.5,209.00 h-1.6 M331.5,204.76 h-1.6 M331.5,201.09 h-1.6 M331.5,197.85 h-1.6 M331.5,175.88 h-1.6 M331.5,164.72 h-1.6 M331.5,156.81 h-1.6 M331.5,150.67 h-1.6 M331.5,145.65 h-1.6 M331.5,141.41 h-1.6 M331.5,137.74 h-1.6 M331.5,134.50 h-1.6 M331.5,112.53 h-1.6 M331.5,101.37 h-1.6 M331.5,93.46 h-1.6 M331.5,87.32 h-1.6 M331.5,82.30 h-1.6 M331.5,78.06 h-1.6 M331.5,74.39 h-1.6 M331.5,71.15 h-1.6 M331.5,49.18 h-1.6 M331.5,38.02 h-1.6 M331.5,49.18 h-1.6 M331.5,38.02 h-1.6" stroke="#777" stroke-width="0.8" fill="none"/>
<text transform="translate(47.80,272.8) scale(0.85,1)" text-anchor="middle" font-family='"Liberation Serif", serif' font-size="13.2" fill="#222">3</text>
<text transform="translate(79.23,272.8) scale(0.85,1)" text-anchor="middle" font-family='"Liberation Serif", serif' font-size="13.2" fill="#222">4</text>
<text transform="translate(110.67,272.8) scale(0.85,1)" text-anchor="middle" font-family='"Liberation Serif", serif' font-size="13.2" fill="#222">5</text>
<text transform="translate(142.10,272.8) scale(0.85,1)" text-anchor="middle" font-family='"Liberation Serif", serif' font-size="13.2" fill="#222">6</text>
<text transform="translate(173.53,272.8) scale(0.85,1)" text-anchor="middle" font-family='"Liberation Serif", serif' font-size="13.2" fill="#222">7</text>
<text transform="translate(204.97,272.8) scale(0.85,1)" text-anchor="middle" font-family='"Liberation Serif", serif' font-size="13.2" fill="#222">8</text>
<text transform="translate(236.40,272.8) scale(0.85,1)" text-anchor="middle" font-family='"Liberation Serif", serif' font-size="13.2" fill="#222">9</text>
<text transform="translate(267.83,272.8) scale(0.85,1)" text-anchor="middle" font-family='"Liberation Serif", serif' font-size="13.2" fill="#222">10</text>
<text transform="translate(299.27,272.8) scale(0.85,1)" text-anchor="middle" font-family='"Liberation Serif", serif' font-size="13.2" fill="#222">11</text>
<text transform="translate(330.70,272.8) scale(0.85,1)" text-anchor="middle" font-family='"Liberation Serif", serif' font-size="13.2" fill="#222">12</text>
<text x="42.5" y="71.25" text-anchor="end" font-family='"Liberation Serif", serif' font-size="12" fill="#222">0.1</text>
<text x="42.5" y="134.60" text-anchor="end" font-family='"Liberation Serif", serif' font-size="12" fill="#222">0.01</text>
<text x="42.5" y="197.95" text-anchor="end" font-family='"Liberation Serif", serif' font-size="12" fill="#222">1E-3</text>
<text x="42.5" y="261.30" text-anchor="end" font-family='"Liberation Serif", serif' font-size="12" fill="#222">1E-4</text>
<text transform="translate(10,133.5) rotate(-90)" text-anchor="middle" font-family='"Liberation Serif", serif' font-size="12" font-weight="bold" letter-spacing="0.4" fill="#111">ρ ( Ω . m )</text>
<text x="153.5" y="290.5" font-family='"Liberation Serif", serif' font-size="13" font-weight="bold" letter-spacing="0.5" fill="#111">1000 / T (K <tspan font-size="9" dy="-6" letter-spacing="0.2">-1</tspan><tspan dy="6">)</tspan></text>
<path d="M223.6,167.1 H260.4" stroke="#000" stroke-width="1"/>
<rect x="240.38" y="165.48" width="3.23" height="3.23" fill="#000"/>
<text x="264.7" y="171.70" font-family='"Liberation Serif", serif' font-size="13.4" letter-spacing="0.62" fill="#000" stroke="#000" stroke-width="0.2">t= 50 nm</text>
<path d="M223.6,184.9 H260.4" stroke="#ff00ff" stroke-width="1"/>
<path d="M238.88,182.04 L245.12,182.04 L242.00,188.02 Z" fill="#fff" stroke="#ff00ff" stroke-width="1"/>
<text x="264.7" y="189.50" font-family='"Liberation Serif", serif' font-size="13.4" letter-spacing="0.62" fill="#000" stroke="#000" stroke-width="0.2">t= 32 nm</text>
<path d="M223.6,202.6 H260.4" stroke="#ff0000" stroke-width="1"/>
<path d="M239.81,200.41 L244.19,204.78 M239.81,204.78 L244.19,200.41" stroke="#ff0000" stroke-width="0.9"/>
<text x="264.7" y="207.20" font-family='"Liberation Serif", serif' font-size="13.4" letter-spacing="0.62" fill="#000" stroke="#000" stroke-width="0.2">t= 25 nm</text>
<path d="M223.6,220.1 H260.4" stroke="#0000ff" stroke-width="1"/>
<path d="M238.75,222.85 L245.25,222.85 L242.00,216.85 Z" fill="#0000ff"/>
<text x="264.7" y="224.70" font-family='"Liberation Serif", serif' font-size="13.4" letter-spacing="0.62" fill="#000" stroke="#000" stroke-width="0.2">t= 15 nm</text>
<path d="M223.6,238.0 H260.4" stroke="#008000" stroke-width="1"/>
<circle cx="242.00" cy="238.00" r="2.00" fill="#008000"/>
<text x="264.7" y="242.60" font-family='"Liberation Serif", serif' font-size="13.4" letter-spacing="0.62" fill="#000" stroke="#000" stroke-width="0.2">t= 8 nm</text>
<text x="397" y="21.6" font-family='"Liberation Sans", sans-serif' font-size="16.5" fill="#111">(b)</text>
<path d="M394.60,45.50 L395.95,46.48 L397.30,47.86 L398.65,49.29 L400.00,50.74 L401.35,52.19 L402.70,53.64 L404.06,55.09 L405.41,56.52 L406.76,57.95 L408.11,59.36 L409.46,60.77 L410.81,62.16 L412.16,63.54 L413.51,64.91 L414.86,66.26 L416.21,67.60 L417.56,68.93 L418.91,70.25 L420.26,71.55 L421.62,72.85 L422.97,74.13 L424.32,75.40 L425.67,76.65 L427.02,77.90 L428.37,79.13 L429.72,80.35 L431.07,81.56 L432.42,82.76 L433.77,83.95 L435.12,85.13 L436.47,86.29 L437.82,87.45 L439.17,88.59 L440.53,89.72 L441.88,90.85 L443.23,91.96 L444.58,93.06 L445.93,94.16 L447.28,95.24 L448.63,96.32 L449.98,97.38 L451.33,98.44 L452.68,99.48 L454.03,100.52 L455.38,101.55 L456.73,102.56 L458.09,103.57 L459.44,104.58 L460.79,105.57 L462.14,106.55 L463.49,107.53 L464.84,108.50 L466.19,109.46 L467.54,110.41 L468.89,111.35 L470.24,112.29 L471.59,113.22 L472.94,114.14 L474.29,115.05 L475.65,115.96 L477.00,116.86 L478.35,117.75 L479.70,118.63 L481.05,119.51 L482.40,120.38 L483.75,121.24 L485.10,122.10 L486.45,122.95 L487.80,123.79 L489.15,124.63 L490.50,125.46 L491.85,126.28 L493.21,127.10 L494.56,127.91 L495.91,128.72 L497.26,129.52 L498.61,130.31 L499.96,131.10 L501.31,131.88 L502.66,132.65 L504.01,133.42 L505.36,134.19 L506.71,134.94 L508.06,135.70 L509.41,136.44 L510.76,137.18 L512.12,137.92 L513.47,138.65 L514.82,139.38 L516.17,140.10 L517.52,140.81 L518.87,141.52 L520.22,142.23 L521.57,142.93 L522.92,143.62 L524.27,144.31 L525.62,145.00 L526.97,145.68 L528.32,146.36 L529.68,147.03 L531.03,147.69 L532.38,148.35 L533.73,149.01 L535.08,149.66 L536.43,150.31 L537.78,150.96 L539.13,151.60 L540.48,152.23 L541.83,152.86 L543.18,153.49 L544.53,154.11 L545.88,154.73 L547.24,155.35 L548.59,155.96 L549.94,156.56 L551.29,157.16 L552.64,157.76 L553.99,158.36 L555.34,158.95 L556.69,159.53 L558.04,160.12 L559.39,160.69 L560.74,161.27 L562.09,161.84 L563.44,162.41 L564.79,162.97 L566.15,163.53 L567.50,164.09 L568.85,164.64 L570.20,165.19 L571.55,165.74 L572.90,166.28 L574.25,166.82 L575.60,167.36 L576.95,167.89 L578.30,168.42 L579.65,168.95 L581.00,169.47 L582.35,169.99 L583.71,170.51 L585.06,171.02 L586.41,171.53 L587.76,172.04 L589.11,172.54 L590.46,173.04 L591.81,173.54 L593.16,174.03 L594.51,174.52 L595.86,175.01 L597.21,175.50 L598.56,175.98 L599.91,176.46 L601.27,176.94 L602.62,177.41 L603.97,177.88 L605.32,178.35 L606.67,178.82 L608.02,179.28 L609.37,179.74 L610.72,180.20 L612.07,180.65 L613.42,181.10 L614.77,181.55 L616.12,182.00 L617.47,182.44 L618.83,182.88 L620.18,183.32 L621.53,183.76 L622.88,184.19 L624.23,184.62 L625.58,185.05 L626.93,185.48 L628.28,185.90 L629.63,186.32 L630.98,186.74 L632.33,187.16 L633.68,187.57 L635.03,187.98 L636.38,188.39 L637.74,188.80 L639.09,189.20 L640.44,189.61 L641.79,190.01 L643.14,190.40 L644.49,190.80 L645.84,191.19 L647.19,191.58 L648.54,191.97 L649.89,192.36 L651.24,192.74 L652.59,193.12 L653.94,193.50 L655.30,193.88 L656.65,194.26 L658.00,194.63 L659.35,195.00 L660.70,195.37 L662.05,195.74 L663.40,196.10" fill="none" stroke="#000" stroke-width="3.8" stroke-linejoin="round" stroke-linecap="round"/>
<path d="M392.7,42.8l3.8,3.8M392.7,46.6l3.8,-3.8M393.7,44.4l4.0,4.0M393.7,48.3l4.0,-4.0M394.4,43.8l4.6,4.6M394.4,48.4l4.6,-4.6M396.0,45.1l3.9,3.9M396.0,49.0l3.9,-3.9M396.9,47.3l4.4,4.4M396.9,51.7l4.4,-4.4M397.7,47.2l4.5,4.5M397.7,51.7l4.5,-4.5M399.1,48.9l4.1,4.1M399.1,53.1l4.1,-4.1M400.4,50.5l4.4,4.4M400.4,54.9l4.4,-4.4M401.4,51.9l4.7,4.7M401.4,56.5l4.7,-4.7M403.2,53.7l4.0,4.0M403.2,57.7l4.0,-4.0M404.7,54.9l3.8,3.8M404.7,58.7l3.8,-3.8M405.7,56.6l4.6,4.6M405.7,61.2l4.6,-4.6M407.0,59.2l4.3,4.3M407.0,63.4l4.3,-4.3M408.0,57.9l4.4,4.4M408.0,62.2l4.4,-4.4M409.5,61.8l3.9,3.9M409.5,65.7l3.9,-3.9M410.5,61.5l4.3,4.3M410.5,65.8l4.3,-4.3M411.5,62.3l4.3,4.3M411.5,66.6l4.3,-4.3M413.0,63.4l4.3,4.3M413.0,67.7l4.3,-4.3M414.5,67.2l4.0,4.0M414.5,71.2l4.0,-4.0M415.1,67.7l4.8,4.8M415.1,72.4l4.8,-4.8M416.3,66.5l4.7,4.7M416.3,71.3l4.7,-4.7M417.5,70.0l4.4,4.4M417.5,74.4l4.4,-4.4M418.9,69.4l4.6,4.6M418.9,74.0l4.6,-4.6M419.8,71.0l4.6,4.6M419.8,75.6l4.6,-4.6M421.6,72.1l4.0,4.0M421.6,76.1l4.0,-4.0M422.6,73.9l4.2,4.2M422.6,78.1l4.2,-4.2M423.4,73.9l4.5,4.5M423.4,78.5l4.5,-4.5M424.9,74.9l4.4,4.4M424.9,79.2l4.4,-4.4M426.2,76.0l4.6,4.6M426.2,80.6l4.6,-4.6M427.2,78.4l4.4,4.4M427.2,82.8l4.4,-4.4M428.6,78.9l4.2,4.2M428.6,83.1l4.2,-4.2M429.7,80.2l4.5,4.5M429.7,84.7l4.5,-4.5M431.2,81.6l3.8,3.8M431.2,85.5l3.8,-3.8M432.3,82.8l4.0,4.0M432.3,86.8l4.0,-4.0M433.6,84.6l4.3,4.3M433.6,88.9l4.3,-4.3M434.7,84.9l3.9,3.9M434.7,88.8l3.9,-3.9M435.7,85.6l3.9,3.9M435.7,89.5l3.9,-3.9M436.9,86.8l3.8,3.8M436.9,90.6l3.8,-3.8M437.8,86.4l4.5,4.5M437.8,91.0l4.5,-4.5M439.5,89.1l3.9,3.9M439.5,92.9l3.9,-3.9M440.3,89.3l4.8,4.8M440.3,94.0l4.8,-4.8M441.2,91.3l4.8,4.8M441.2,96.1l4.8,-4.8M442.9,92.7l4.0,4.0M442.9,96.7l4.0,-4.0M444.1,92.7l4.8,4.8M444.1,97.5l4.8,-4.8M445.6,93.1l4.6,4.6M445.6,97.7l4.6,-4.6M447.3,94.3l4.2,4.2M447.3,98.5l4.2,-4.2M448.4,95.4l4.7,4.7M448.4,100.1l4.7,-4.7M449.8,98.3l3.9,3.9M449.8,102.2l3.9,-3.9M451.0,99.4l4.0,4.0M451.0,103.4l4.0,-4.0M452.0,99.1l4.1,4.1M452.0,103.2l4.1,-4.1M452.9,99.0l4.0,4.0M452.9,103.0l4.0,-4.0M454.0,101.1l4.7,4.7M454.0,105.8l4.7,-4.7M455.4,102.5l3.9,3.9M455.4,106.4l3.9,-3.9M456.5,102.9l4.2,4.2M456.5,107.0l4.2,-4.2M457.8,103.6l4.4,4.4M457.8,108.0l4.4,-4.4M459.1,103.3l4.8,4.8M459.1,108.1l4.8,-4.8M460.5,105.1l4.6,4.6M460.5,109.7l4.6,-4.6M461.6,107.5l4.4,4.4M461.6,111.9l4.4,-4.4M462.8,107.8l4.2,4.2M462.8,112.1l4.2,-4.2M463.9,108.6l3.8,3.8M463.9,112.5l3.8,-3.8M465.0,108.1l4.4,4.4M465.0,112.5l4.4,-4.4M466.5,110.0l4.5,4.5M466.5,114.5l4.5,-4.5M467.9,109.6l3.8,3.8M467.9,113.4l3.8,-3.8M468.7,111.6l4.2,4.2M468.7,115.9l4.2,-4.2M470.0,113.3l3.9,3.9M470.0,117.3l3.9,-3.9M471.1,113.4l3.8,3.8M471.1,117.3l3.8,-3.8M471.9,113.2l3.9,3.9M471.9,117.1l3.9,-3.9M472.7,113.4l4.4,4.4M472.7,117.8l4.4,-4.4M474.0,114.1l4.4,4.4M474.0,118.6l4.4,-4.4M475.0,114.6l4.7,4.7M475.0,119.3l4.7,-4.7M476.4,115.7l3.9,3.9M476.4,119.6l3.9,-3.9M477.4,118.1l4.6,4.6M477.4,122.7l4.6,-4.6M478.9,117.7l3.8,3.8M478.9,121.5l3.8,-3.8M480.0,119.1l4.2,4.2M480.0,123.3l4.2,-4.2M481.0,119.4l4.7,4.7M481.0,124.1l4.7,-4.7M482.4,119.7l4.7,4.7M482.4,124.4l4.7,-4.7M483.5,121.3l4.2,4.2M483.5,125.5l4.2,-4.2M484.3,120.5l4.6,4.6M484.3,125.1l4.6,-4.6M485.1,122.2l4.7,4.7M485.1,127.0l4.7,-4.7M486.2,122.1l4.4,4.4M486.2,126.5l4.4,-4.4M487.3,123.9l4.6,4.6M487.3,128.5l4.6,-4.6M488.5,123.9l4.1,4.1M488.5,128.0l4.1,-4.1M489.1,125.7l4.6,4.6M489.1,130.3l4.6,-4.6M490.4,124.2l4.6,4.6M490.4,128.8l4.6,-4.6M491.9,126.3l4.5,4.5M491.9,130.8l4.5,-4.5M493.3,126.7l3.9,3.9M493.3,130.6l3.9,-3.9M494.2,126.7l4.1,4.1M494.2,130.8l4.1,-4.1M495.3,128.9l4.6,4.6M495.3,133.6l4.6,-4.6M496.8,128.8l4.4,4.4M496.8,133.1l4.4,-4.4M498.0,130.8l4.3,4.3M498.0,135.2l4.3,-4.3M498.8,130.8l4.8,4.8M498.8,135.6l4.8,-4.8M500.2,132.5l3.8,3.8M500.2,136.3l3.8,-3.8M500.9,131.1l4.5,4.5M500.9,135.6l4.5,-4.5M502.6,133.5l4.1,4.1M502.6,137.6l4.1,-4.1M504.1,133.3l4.0,4.0M504.1,137.3l4.0,-4.0M505.4,134.7l4.5,4.5M505.4,139.2l4.5,-4.5M506.8,136.4l4.3,4.3M506.8,140.7l4.3,-4.3M508.0,136.3l4.7,4.7M508.0,140.9l4.7,-4.7M509.3,137.1l4.4,4.4M509.3,141.5l4.4,-4.4M510.3,136.4l4.4,4.4M510.3,140.8l4.4,-4.4M511.5,138.9l3.9,3.9M511.5,142.9l3.9,-3.9M511.9,136.9l4.7,4.7M511.9,141.6l4.7,-4.7M513.5,138.1l3.8,3.8M513.5,141.9l3.8,-3.8M514.0,139.7l4.4,4.4M514.0,144.1l4.4,-4.4M515.7,140.8l3.9,3.9M515.7,144.6l3.9,-3.9M516.5,140.1l4.6,4.6M516.5,144.7l4.6,-4.6M518.3,142.6l3.9,3.9M518.3,146.5l3.9,-3.9M519.3,143.0l4.7,4.7M519.3,147.7l4.7,-4.7M520.7,142.1l3.9,3.9M520.7,146.0l3.9,-3.9M521.2,143.8l4.6,4.6M521.2,148.4l4.6,-4.6M522.5,144.5l4.4,4.4M522.5,149.0l4.4,-4.4M523.9,143.5l3.9,3.9M523.9,147.4l3.9,-3.9M525.1,144.3l4.1,4.1M525.1,148.5l4.1,-4.1M526.3,144.5l4.1,4.1M526.3,148.5l4.1,-4.1M527.3,146.8l4.2,4.2M527.3,150.9l4.2,-4.2M528.3,147.9l4.3,4.3M528.3,152.2l4.3,-4.3M529.9,147.9l3.8,3.8M529.9,151.8l3.8,-3.8M530.7,147.7l4.6,4.6M530.7,152.2l4.6,-4.6M531.9,149.0l4.3,4.3M531.9,153.4l4.3,-4.3M533.1,150.2l3.9,3.9M533.1,154.0l3.9,-3.9M534.6,149.1l3.8,3.8M534.6,152.9l3.8,-3.8M535.1,150.6l4.8,4.8M535.1,155.4l4.8,-4.8M536.2,150.6l4.3,4.3M536.2,154.9l4.3,-4.3M537.6,150.5l4.3,4.3M537.6,154.8l4.3,-4.3M538.8,152.8l4.1,4.1M538.8,156.9l4.1,-4.1M540.3,152.1l4.0,4.0M540.3,156.1l4.0,-4.0M541.7,153.4l3.9,3.9M541.7,157.3l3.9,-3.9M542.6,152.6l4.6,4.6M542.6,157.2l4.6,-4.6M544.0,155.1l4.4,4.4M544.0,159.5l4.4,-4.4M545.2,154.7l4.2,4.2M545.2,158.9l4.2,-4.2M546.4,154.4l4.7,4.7M546.4,159.1l4.7,-4.7M547.6,155.4l4.1,4.1M547.6,159.5l4.1,-4.1M549.0,156.8l4.2,4.2M549.0,161.0l4.2,-4.2M550.4,156.7l4.3,4.3M550.4,161.0l4.3,-4.3M551.5,158.5l4.6,4.6M551.5,163.0l4.6,-4.6M553.0,158.2l4.1,4.1M553.0,162.4l4.1,-4.1M553.8,159.8l4.5,4.5M553.8,164.3l4.5,-4.5M555.3,158.8l4.2,4.2M555.3,163.0l4.2,-4.2M556.8,160.6l3.9,3.9M556.8,164.5l3.9,-3.9M557.9,161.9l4.0,4.0M557.9,165.9l4.0,-4.0M558.6,160.6l4.5,4.5M558.6,165.1l4.5,-4.5M560.3,161.1l4.0,4.0M560.3,165.0l4.0,-4.0M561.2,161.8l4.3,4.3M561.2,166.1l4.3,-4.3M562.3,162.4l4.0,4.0M562.3,166.4l4.0,-4.0M563.9,164.1l3.9,3.9M563.9,168.0l3.9,-3.9M565.2,163.0l4.2,4.2M565.2,167.2l4.2,-4.2M566.6,165.3l4.5,4.5M566.6,169.8l4.5,-4.5M567.8,164.3l4.4,4.4M567.8,168.7l4.4,-4.4M568.8,164.8l4.2,4.2M568.8,169.0l4.2,-4.2M569.5,165.5l4.6,4.6M569.5,170.1l4.6,-4.6M570.9,166.4l4.4,4.4M570.9,170.8l4.4,-4.4M572.1,166.0l4.4,4.4M572.1,170.4l4.4,-4.4M573.0,167.9l4.7,4.7M573.0,172.6l4.7,-4.7M574.3,168.0l4.5,4.5M574.3,172.5l4.5,-4.5M575.4,167.6l4.5,4.5M575.4,172.1l4.5,-4.5M576.9,169.6l4.5,4.5M576.9,174.1l4.5,-4.5M578.3,170.0l4.4,4.4M578.3,174.4l4.4,-4.4M579.5,169.5l4.4,4.4M579.5,173.9l4.4,-4.4M580.3,170.1l4.6,4.6M580.3,174.7l4.6,-4.6M581.9,171.4l4.1,4.1M581.9,175.5l4.1,-4.1M582.9,171.3l4.4,4.4M582.9,175.7l4.4,-4.4M583.9,172.1l4.7,4.7M583.9,176.9l4.7,-4.7M584.9,172.6l4.6,4.6M584.9,177.1l4.6,-4.6M585.9,172.5l4.8,4.8M585.9,177.2l4.8,-4.8M587.2,173.4l4.0,4.0M587.2,177.3l4.0,-4.0M588.4,174.8l4.3,4.3M588.4,179.1l4.3,-4.3M589.3,174.2l4.3,4.3M589.3,178.5l4.3,-4.3M590.6,174.5l4.4,4.4M590.6,178.9l4.4,-4.4M592.1,175.2l4.2,4.2M592.1,179.4l4.2,-4.2M593.5,174.8l4.5,4.5M593.5,179.3l4.5,-4.5M594.9,177.0l3.9,3.9M594.9,180.9l3.9,-3.9M596.5,176.5l3.9,3.9M596.5,180.4l3.9,-3.9M597.5,177.1l3.8,3.8M597.5,180.9l3.8,-3.8M598.3,177.2l4.5,4.5M598.3,181.7l4.5,-4.5M599.6,177.5l4.0,4.0M599.6,181.5l4.0,-4.0M600.8,179.6l4.3,4.3M600.8,183.9l4.3,-4.3M601.9,179.7l4.2,4.2M601.9,183.9l4.2,-4.2M602.7,178.1l4.6,4.6M602.7,182.7l4.6,-4.6M604.3,180.1l4.3,4.3M604.3,184.4l4.3,-4.3M605.2,179.2l4.8,4.8M605.2,184.0l4.8,-4.8M606.4,180.8l4.6,4.6M606.4,185.4l4.6,-4.6M608.1,181.1l4.1,4.1M608.1,185.2l4.1,-4.1M609.0,180.4l4.6,4.6M609.0,185.1l4.6,-4.6M610.4,183.0l4.1,4.1M610.4,187.1l4.1,-4.1M611.4,181.8l4.2,4.2M611.4,186.0l4.2,-4.2M612.3,181.3l4.5,4.5M612.3,185.8l4.5,-4.5M613.5,182.5l4.1,4.1M613.5,186.6l4.1,-4.1M614.5,183.3l4.4,4.4M614.5,187.7l4.4,-4.4M615.7,183.4l4.7,4.7M615.7,188.1l4.7,-4.7M617.2,183.2l4.6,4.6M617.2,187.8l4.6,-4.6M619.0,185.9l3.9,3.9M619.0,189.9l3.9,-3.9M620.5,186.1l3.8,3.8M620.5,189.9l3.8,-3.8M621.0,186.9l4.5,4.5M621.0,191.4l4.5,-4.5M622.3,185.3l3.9,3.9M622.3,189.3l3.9,-3.9M623.2,187.3l4.1,4.1M623.2,191.5l4.1,-4.1M623.9,187.8l4.6,4.6M623.9,192.4l4.6,-4.6M624.9,188.2l4.4,4.4M624.9,192.6l4.4,-4.4M626.2,187.9l4.7,4.7M626.2,192.6l4.7,-4.7M627.9,189.2l4.0,4.0M627.9,193.2l4.0,-4.0M629.0,188.6l4.5,4.5M629.0,193.1l4.5,-4.5M630.2,190.0l4.4,4.4M630.2,194.3l4.4,-4.4M631.4,188.9l3.9,3.9M631.4,192.8l3.9,-3.9M632.5,188.6l4.3,4.3M632.5,192.9l4.3,-4.3M633.4,190.1l4.3,4.3M633.4,194.4l4.3,-4.3M634.9,191.7l3.8,3.8M634.9,195.5l3.8,-3.8M636.0,190.9l4.4,4.4M636.0,195.2l4.4,-4.4M637.4,192.4l4.2,4.2M637.4,196.5l4.2,-4.2M638.7,193.2l3.9,3.9M638.7,197.1l3.9,-3.9M640.0,192.8l3.8,3.8M640.0,196.6l3.8,-3.8M640.8,192.9l4.7,4.7M640.8,197.6l4.7,-4.7M642.1,194.3l4.3,4.3M642.1,198.6l4.3,-4.3M643.5,194.7l3.8,3.8M643.5,198.5l3.8,-3.8M644.7,194.2l4.1,4.1M644.7,198.4l4.1,-4.1M646.1,194.0l4.3,4.3M646.1,198.2l4.3,-4.3M647.4,195.5l4.0,4.0M647.4,199.6l4.0,-4.0M648.4,194.8l4.4,4.4M648.4,199.2l4.4,-4.4M649.7,194.8l4.6,4.6M649.7,199.4l4.6,-4.6M651.1,196.0l4.1,4.1M651.1,200.1l4.1,-4.1M652.1,197.4l4.5,4.5M652.1,201.9l4.5,-4.5M653.6,196.4l4.1,4.1M653.6,200.5l4.1,-4.1M654.5,197.2l4.4,4.4M654.5,201.6l4.4,-4.4M655.9,196.2l4.5,4.5M655.9,200.7l4.5,-4.5M657.7,198.3l3.8,3.8M657.7,202.1l3.8,-3.8M658.7,197.1l4.0,4.0M658.7,201.1l4.0,-4.0M659.9,198.9l4.5,4.5M659.9,203.4l4.5,-4.5" stroke="#ff0000" stroke-width="0.75" fill="none"/>
<path d="M394.60,45.50 L395.95,46.84 L397.30,48.48 L398.65,50.14 L400.00,51.79 L401.35,53.44 L402.70,55.07 L404.06,56.69 L405.41,58.29 L406.76,59.87 L408.11,61.44 L409.46,62.98 L410.81,64.51 L412.16,66.02 L413.51,67.52 L414.86,68.99 L416.21,70.45 L417.56,71.89 L418.91,73.32 L420.26,74.73 L421.62,76.12 L422.97,77.50 L424.32,78.86 L425.67,80.21 L427.02,81.55 L428.37,82.87 L429.72,84.17 L431.07,85.47 L432.42,86.75 L433.77,88.02 L435.12,89.27 L436.47,90.51 L437.82,91.74 L439.17,92.96 L440.53,94.17 L441.88,95.37 L443.23,96.55 L444.58,97.73 L445.93,98.89 L447.28,100.05 L448.63,101.19 L449.98,102.32 L451.33,103.45 L452.68,104.56 L454.03,105.67 L455.38,106.76 L456.73,107.85 L458.09,108.93 L459.44,110.00 L460.79,111.06 L462.14,112.11 L463.49,113.15 L464.84,114.19 L466.19,115.22 L467.54,116.24 L468.89,117.25 L470.24,118.26 L471.59,119.25 L472.94,120.24 L474.29,121.23 L475.65,122.21 L477.00,123.17 L478.35,124.14 L479.70,125.09 L481.05,126.04 L482.40,126.99 L483.75,127.93 L485.10,128.86 L486.45,129.78 L487.80,130.70 L489.15,131.61 L490.50,132.52 L491.85,133.42 L493.21,134.32 L494.56,135.21 L495.91,136.09 L497.26,136.97 L498.61,137.85 L499.96,138.72 L501.31,139.58 L502.66,140.44 L504.01,141.29 L505.36,142.14 L506.71,142.99 L508.06,143.83 L509.41,144.66 L510.76,145.49 L512.12,146.32 L513.47,147.14 L514.82,147.95 L516.17,148.77 L517.52,149.57 L518.87,150.38 L520.22,151.18 L521.57,151.97 L522.92,152.76 L524.27,153.55 L525.62,154.33 L526.97,155.11 L528.32,155.89 L529.68,156.66 L531.03,157.43 L532.38,158.19 L533.73,158.95 L535.08,159.71 L536.43,160.46 L537.78,161.21 L539.13,161.95 L540.48,162.70 L541.83,163.44 L543.18,164.17 L544.53,164.90 L545.88,165.63 L547.24,166.36 L548.59,167.08 L549.94,167.80 L551.29,168.52 L552.64,169.23 L553.99,169.94 L555.34,170.64 L556.69,171.35 L558.04,172.05 L559.39,172.75 L560.74,173.44 L562.09,174.13 L563.44,174.82 L564.79,175.51 L566.15,176.19 L567.50,176.87 L568.85,177.55 L570.20,178.23 L571.55,178.90 L572.90,179.57 L574.25,180.24 L575.60,180.90 L576.95,181.56 L578.30,182.22 L579.65,182.88 L581.00,183.54 L582.35,184.19 L583.71,184.84 L585.06,185.49 L586.41,186.13 L587.76,186.77 L589.11,187.42 L590.46,188.05 L591.81,188.69 L593.16,189.32 L594.51,189.95 L595.86,190.58 L597.21,191.21 L598.56,191.84 L599.91,192.46 L601.27,193.08 L602.62,193.70 L603.97,194.31 L605.32,194.93 L606.67,195.54 L608.02,196.15 L609.37,196.76 L610.72,197.37 L612.07,197.97 L613.42,198.57 L614.77,199.17 L616.12,199.77 L617.47,200.37 L618.83,200.96 L620.18,201.56 L621.53,202.15 L622.88,202.74 L624.23,203.32 L625.58,203.91 L626.93,204.49 L628.28,205.07 L629.63,205.65 L630.98,206.23 L632.33,206.81 L633.68,207.38 L635.03,207.96 L636.38,208.53 L637.74,209.10 L639.09,209.67 L640.44,210.24 L641.79,210.80 L643.14,211.36 L644.49,211.93 L645.84,212.49 L647.19,213.04 L648.54,213.60 L649.89,214.16 L651.24,214.71 L652.59,215.26 L653.94,215.82 L655.30,216.37 L656.65,216.91 L658.00,217.46 L659.35,218.01 L660.70,218.55 L662.05,219.09 L663.40,219.63" fill="none" stroke="#0000ff" stroke-width="5.800000000000001" stroke-dasharray="1.33 1.41 1.09 1.43 1.16 1.40 1.14 1.01 1.13 1.26 1.21 0.90 0.75 0.84 1.22 1.71 1.12 1.17 1.26 1.59 1.05 1.06 0.84 1.22 0.85 1.23 1.11 1.73 0.64 1.37 0.63 0.92 1.25 1.38 1.33 1.25 0.61 1.19 1.07 1.74 1.38 1.28 0.93 0.90 1.12 1.01 0.72 0.82 0.60 1.48 0.70 1.77 0.67 1.67 0.70 0.82 1.18 1.04 1.19 0.99 0.64 1.57 1.17 1.66 1.18 0.88 1.10 1.51 0.97 1.73 0.80 1.76 1.17 0.81 0.61 1.45 1.25 0.88 0.85 1.53" stroke-linejoin="round"/>
<path d="M394.60,45.50 L395.95,46.84 L397.30,48.48 L398.65,50.14 L400.00,51.79 L401.35,53.44 L402.70,55.07 L404.06,56.69 L405.41,58.29 L406.76,59.87 L408.11,61.44 L409.46,62.98 L410.81,64.51 L412.16,66.02 L413.51,67.52 L414.86,68.99 L416.21,70.45 L417.56,71.89 L418.91,73.32 L420.26,74.73 L421.62,76.12 L422.97,77.50 L424.32,78.86 L425.67,80.21 L427.02,81.55 L428.37,82.87 L429.72,84.17 L431.07,85.47 L432.42,86.75 L433.77,88.02 L435.12,89.27 L436.47,90.51 L437.82,91.74 L439.17,92.96 L440.53,94.17 L441.88,95.37 L443.23,96.55 L444.58,97.73 L445.93,98.89 L447.28,100.05 L448.63,101.19 L449.98,102.32 L451.33,103.45 L452.68,104.56 L454.03,105.67 L455.38,106.76 L456.73,107.85 L458.09,108.93 L459.44,110.00 L460.79,111.06 L462.14,112.11 L463.49,113.15 L464.84,114.19 L466.19,115.22 L467.54,116.24 L468.89,117.25 L470.24,118.26 L471.59,119.25 L472.94,120.24 L474.29,121.23 L475.65,122.21 L477.00,123.17 L478.35,124.14 L479.70,125.09 L481.05,126.04 L482.40,126.99 L483.75,127.93 L485.10,128.86 L486.45,129.78 L487.80,130.70 L489.15,131.61 L490.50,132.52 L491.85,133.42 L493.21,134.32 L494.56,135.21 L495.91,136.09 L497.26,136.97 L498.61,137.85 L499.96,138.72 L501.31,139.58 L502.66,140.44 L504.01,141.29 L505.36,142.14 L506.71,142.99 L508.06,143.83 L509.41,144.66 L510.76,145.49 L512.12,146.32 L513.47,147.14 L514.82,147.95 L516.17,148.77 L517.52,149.57 L518.87,150.38 L520.22,151.18 L521.57,151.97 L522.92,152.76 L524.27,153.55 L525.62,154.33 L526.97,155.11 L528.32,155.89 L529.68,156.66 L531.03,157.43 L532.38,158.19 L533.73,158.95 L535.08,159.71 L536.43,160.46 L537.78,161.21 L539.13,161.95 L540.48,162.70 L541.83,163.44 L543.18,164.17 L544.53,164.90 L545.88,165.63 L547.24,166.36 L548.59,167.08 L549.94,167.80 L551.29,168.52 L552.64,169.23 L553.99,169.94 L555.34,170.64 L556.69,171.35 L558.04,172.05 L559.39,172.75 L560.74,173.44 L562.09,174.13 L563.44,174.82 L564.79,175.51 L566.15,176.19 L567.50,176.87 L568.85,177.55 L570.20,178.23 L571.55,178.90 L572.90,179.57 L574.25,180.24 L575.60,180.90 L576.95,181.56 L578.30,182.22 L579.65,182.88 L581.00,183.54 L582.35,184.19 L583.71,184.84 L585.06,185.49 L586.41,186.13 L587.76,186.77 L589.11,187.42 L590.46,188.05 L591.81,188.69 L593.16,189.32 L594.51,189.95 L595.86,190.58 L597.21,191.21 L598.56,191.84 L599.91,192.46 L601.27,193.08 L602.62,193.70 L603.97,194.31 L605.32,194.93 L606.67,195.54 L608.02,196.15 L609.37,196.76 L610.72,197.37 L612.07,197.97 L613.42,198.57 L614.77,199.17 L616.12,199.77 L617.47,200.37 L618.83,200.96 L620.18,201.56 L621.53,202.15 L622.88,202.74 L624.23,203.32 L625.58,203.91 L626.93,204.49 L628.28,205.07 L629.63,205.65 L630.98,206.23 L632.33,206.81 L633.68,207.38 L635.03,207.96 L636.38,208.53 L637.74,209.10 L639.09,209.67 L640.44,210.24 L641.79,210.80 L643.14,211.36 L644.49,211.93 L645.84,212.49 L647.19,213.04 L648.54,213.60 L649.89,214.16 L651.24,214.71 L652.59,215.26 L653.94,215.82 L655.30,216.37 L656.65,216.91 L658.00,217.46 L659.35,218.01 L660.70,218.55 L662.05,219.09 L663.40,219.63" fill="none" stroke="#0000ff" stroke-width="4.2" stroke-linejoin="round" stroke-linecap="round"/>
<path d="M394.60,45.50 L395.95,47.65 L397.30,49.62 L398.65,51.55 L400.00,53.43 L401.35,55.28 L402.70,57.10 L404.06,58.88 L405.41,60.64 L406.76,62.38 L408.11,64.08 L409.46,65.76 L410.81,67.42 L412.16,69.05 L413.51,70.67 L414.86,72.26 L416.21,73.83 L417.56,75.38 L418.91,76.91 L420.26,78.42 L421.62,79.92 L422.97,81.39 L424.32,82.85 L425.67,84.30 L427.02,85.72 L428.37,87.13 L429.72,88.53 L431.07,89.91 L432.42,91.27 L433.77,92.63 L435.12,93.96 L436.47,95.29 L437.82,96.60 L439.17,97.89 L440.53,99.18 L441.88,100.45 L443.23,101.71 L444.58,102.96 L445.93,104.20 L447.28,105.42 L448.63,106.64 L449.98,107.84 L451.33,109.03 L452.68,110.22 L454.03,111.39 L455.38,112.55 L456.73,113.70 L458.09,114.85 L459.44,115.98 L460.79,117.11 L462.14,118.22 L463.49,119.33 L464.84,120.43 L466.19,121.52 L467.54,122.60 L468.89,123.67 L470.24,124.74 L471.59,125.80 L472.94,126.85 L474.29,127.89 L475.65,128.93 L477.00,129.95 L478.35,130.97 L479.70,131.99 L481.05,132.99 L482.40,133.99 L483.75,134.99 L485.10,135.97 L486.45,136.95 L487.80,137.93 L489.15,138.89 L490.50,139.86 L491.85,140.81 L493.21,141.76 L494.56,142.70 L495.91,143.64 L497.26,144.57 L498.61,145.50 L499.96,146.42 L501.31,147.33 L502.66,148.24 L504.01,149.15 L505.36,150.05 L506.71,150.94 L508.06,151.83 L509.41,152.72 L510.76,153.59 L512.12,154.47 L513.47,155.34 L514.82,156.20 L516.17,157.06 L517.52,157.92 L518.87,158.77 L520.22,159.62 L521.57,160.46 L522.92,161.30 L524.27,162.13 L525.62,162.96 L526.97,163.79 L528.32,164.61 L529.68,165.42 L531.03,166.24 L532.38,167.05 L533.73,167.85 L535.08,168.65 L536.43,169.45 L537.78,170.25 L539.13,171.04 L540.48,171.82 L541.83,172.61 L543.18,173.38 L544.53,174.16 L545.88,174.93 L547.24,175.70 L548.59,176.47 L549.94,177.23 L551.29,177.99 L552.64,178.74 L553.99,179.50 L555.34,180.25 L556.69,180.99 L558.04,181.74 L559.39,182.48 L560.74,183.21 L562.09,183.95 L563.44,184.68 L564.79,185.40 L566.15,186.13 L567.50,186.85 L568.85,187.57 L570.20,188.29 L571.55,189.00 L572.90,189.71 L574.25,190.42 L575.60,191.12 L576.95,191.83 L578.30,192.53 L579.65,193.22 L581.00,193.92 L582.35,194.61 L583.71,195.30 L585.06,195.99 L586.41,196.67 L587.76,197.35 L589.11,198.03 L590.46,198.71 L591.81,199.39 L593.16,200.06 L594.51,200.73 L595.86,201.40 L597.21,202.06 L598.56,202.73 L599.91,203.39 L601.27,204.05 L602.62,204.70 L603.97,205.36 L605.32,206.01 L606.67,206.66 L608.02,207.31 L609.37,207.95 L610.72,208.60 L612.07,209.24 L613.42,209.88 L614.77,210.52 L616.12,211.15 L617.47,211.78 L618.83,212.42 L620.18,213.05 L621.53,213.67 L622.88,214.30 L624.23,214.92 L625.58,215.55 L626.93,216.17 L628.28,216.78 L629.63,217.40 L630.98,218.01 L632.33,218.63 L633.68,219.24 L635.03,219.85 L636.38,220.46 L637.74,221.06 L639.09,221.67 L640.44,222.27 L641.79,222.87 L643.14,223.47 L644.49,224.06 L645.84,224.66 L647.19,225.25 L648.54,225.85 L649.89,226.44 L651.24,227.03 L652.59,227.61 L653.94,228.20 L655.30,228.78 L656.65,229.37 L658.00,229.95 L659.35,230.53 L660.70,231.11 L662.05,231.68 L663.40,232.26" fill="none" stroke="#008000" stroke-width="5.4" stroke-dasharray="0.73 1.66 0.99 0.86 0.89 1.37 0.95 1.48 0.72 1.60 0.89 1.44 1.10 1.22 0.91 1.59 1.36 1.58 1.05 1.09 0.65 1.77 1.16 1.63 0.87 1.41 1.38 1.63 1.08 1.11 0.94 1.69 0.90 1.48 1.08 1.70 1.25 1.08 0.60 1.06 0.94 1.39 1.25 1.69 0.63 1.63 1.25 1.67 1.06 1.07 1.28 1.61 1.15 1.71 0.88 0.89 1.04 1.60 0.76 1.55 1.35 1.03 1.09 1.48 0.97 1.01 0.80 1.55 1.23 1.26 0.67 1.61 1.22 1.03 1.06 1.70 1.31 1.32 0.98 1.39" stroke-linejoin="round"/>
<path d="M394.60,45.50 L395.95,47.65 L397.30,49.62 L398.65,51.55 L400.00,53.43 L401.35,55.28 L402.70,57.10 L404.06,58.88 L405.41,60.64 L406.76,62.38 L408.11,64.08 L409.46,65.76 L410.81,67.42 L412.16,69.05 L413.51,70.67 L414.86,72.26 L416.21,73.83 L417.56,75.38 L418.91,76.91 L420.26,78.42 L421.62,79.92 L422.97,81.39 L424.32,82.85 L425.67,84.30 L427.02,85.72 L428.37,87.13 L429.72,88.53 L431.07,89.91 L432.42,91.27 L433.77,92.63 L435.12,93.96 L436.47,95.29 L437.82,96.60 L439.17,97.89 L440.53,99.18 L441.88,100.45 L443.23,101.71 L444.58,102.96 L445.93,104.20 L447.28,105.42 L448.63,106.64 L449.98,107.84 L451.33,109.03 L452.68,110.22 L454.03,111.39 L455.38,112.55 L456.73,113.70 L458.09,114.85 L459.44,115.98 L460.79,117.11 L462.14,118.22 L463.49,119.33 L464.84,120.43 L466.19,121.52 L467.54,122.60 L468.89,123.67 L470.24,124.74 L471.59,125.80 L472.94,126.85 L474.29,127.89 L475.65,128.93 L477.00,129.95 L478.35,130.97 L479.70,131.99 L481.05,132.99 L482.40,133.99 L483.75,134.99 L485.10,135.97 L486.45,136.95 L487.80,137.93 L489.15,138.89 L490.50,139.86 L491.85,140.81 L493.21,141.76 L494.56,142.70 L495.91,143.64 L497.26,144.57 L498.61,145.50 L499.96,146.42 L501.31,147.33 L502.66,148.24 L504.01,149.15 L505.36,150.05 L506.71,150.94 L508.06,151.83 L509.41,152.72 L510.76,153.59 L512.12,154.47 L513.47,155.34 L514.82,156.20 L516.17,157.06 L517.52,157.92 L518.87,158.77 L520.22,159.62 L521.57,160.46 L522.92,161.30 L524.27,162.13 L525.62,162.96 L526.97,163.79 L528.32,164.61 L529.68,165.42 L531.03,166.24 L532.38,167.05 L533.73,167.85 L535.08,168.65 L536.43,169.45 L537.78,170.25 L539.13,171.04 L540.48,171.82 L541.83,172.61 L543.18,173.38 L544.53,174.16 L545.88,174.93 L547.24,175.70 L548.59,176.47 L549.94,177.23 L551.29,177.99 L552.64,178.74 L553.99,179.50 L555.34,180.25 L556.69,180.99 L558.04,181.74 L559.39,182.48 L560.74,183.21 L562.09,183.95 L563.44,184.68 L564.79,185.40 L566.15,186.13 L567.50,186.85 L568.85,187.57 L570.20,188.29 L571.55,189.00 L572.90,189.71 L574.25,190.42 L575.60,191.12 L576.95,191.83 L578.30,192.53 L579.65,193.22 L581.00,193.92 L582.35,194.61 L583.71,195.30 L585.06,195.99 L586.41,196.67 L587.76,197.35 L589.11,198.03 L590.46,198.71 L591.81,199.39 L593.16,200.06 L594.51,200.73 L595.86,201.40 L597.21,202.06 L598.56,202.73 L599.91,203.39 L601.27,204.05 L602.62,204.70 L603.97,205.36 L605.32,206.01 L606.67,206.66 L608.02,207.31 L609.37,207.95 L610.72,208.60 L612.07,209.24 L613.42,209.88 L614.77,210.52 L616.12,211.15 L617.47,211.78 L618.83,212.42 L620.18,213.05 L621.53,213.67 L622.88,214.30 L624.23,214.92 L625.58,215.55 L626.93,216.17 L628.28,216.78 L629.63,217.40 L630.98,218.01 L632.33,218.63 L633.68,219.24 L635.03,219.85 L636.38,220.46 L637.74,221.06 L639.09,221.67 L640.44,222.27 L641.79,222.87 L643.14,223.47 L644.49,224.06 L645.84,224.66 L647.19,225.25 L648.54,225.85 L649.89,226.44 L651.24,227.03 L652.59,227.61 L653.94,228.20 L655.30,228.78 L656.65,229.37 L658.00,229.95 L659.35,230.53 L660.70,231.11 L662.05,231.68 L663.40,232.26" fill="none" stroke="#008000" stroke-width="3.8" stroke-linejoin="round" stroke-linecap="round"/>
<path d="M394.60,45.50 L395.95,48.82 L397.30,51.21 L398.65,53.42 L400.00,55.54 L401.35,57.58 L402.70,59.57 L404.06,61.50 L405.41,63.40 L406.76,65.26 L408.11,67.08 L409.46,68.87 L410.81,70.64 L412.16,72.37 L413.51,74.08 L414.86,75.77 L416.21,77.43 L417.56,79.07 L418.91,80.69 L420.26,82.28 L421.62,83.86 L422.97,85.42 L424.32,86.96 L425.67,88.48 L427.02,89.99 L428.37,91.48 L429.72,92.95 L431.07,94.40 L432.42,95.84 L433.77,97.27 L435.12,98.68 L436.47,100.08 L437.82,101.46 L439.17,102.83 L440.53,104.19 L441.88,105.53 L443.23,106.87 L444.58,108.19 L445.93,109.49 L447.28,110.79 L448.63,112.08 L449.98,113.35 L451.33,114.61 L452.68,115.86 L454.03,117.11 L455.38,118.34 L456.73,119.56 L458.09,120.77 L459.44,121.97 L460.79,123.17 L462.14,124.35 L463.49,125.52 L464.84,126.69 L466.19,127.85 L467.54,128.99 L468.89,130.13 L470.24,131.27 L471.59,132.39 L472.94,133.51 L474.29,134.61 L475.65,135.71 L477.00,136.81 L478.35,137.89 L479.70,138.97 L481.05,140.04 L482.40,141.10 L483.75,142.16 L485.10,143.21 L486.45,144.25 L487.80,145.29 L489.15,146.32 L490.50,147.34 L491.85,148.36 L493.21,149.37 L494.56,150.38 L495.91,151.38 L497.26,152.37 L498.61,153.36 L499.96,154.34 L501.31,155.31 L502.66,156.28 L504.01,157.25 L505.36,158.21 L506.71,159.16 L508.06,160.11 L509.41,161.05 L510.76,161.99 L512.12,162.92 L513.47,163.85 L514.82,164.78 L516.17,165.69 L517.52,166.61 L518.87,167.52 L520.22,168.42 L521.57,169.32 L522.92,170.22 L524.27,171.11 L525.62,171.99 L526.97,172.88 L528.32,173.75 L529.68,174.63 L531.03,175.50 L532.38,176.36 L533.73,177.22 L535.08,178.08 L536.43,178.93 L537.78,179.78 L539.13,180.62 L540.48,181.47 L541.83,182.30 L543.18,183.14 L544.53,183.97 L545.88,184.79 L547.24,185.61 L548.59,186.43 L549.94,187.25 L551.29,188.06 L552.64,188.87 L553.99,189.67 L555.34,190.47 L556.69,191.27 L558.04,192.07 L559.39,192.86 L560.74,193.65 L562.09,194.43 L563.44,195.21 L564.79,195.99 L566.15,196.77 L567.50,197.54 L568.85,198.31 L570.20,199.08 L571.55,199.84 L572.90,200.60 L574.25,201.36 L575.60,202.11 L576.95,202.86 L578.30,203.61 L579.65,204.36 L581.00,205.10 L582.35,205.84 L583.71,206.58 L585.06,207.32 L586.41,208.05 L587.76,208.78 L589.11,209.51 L590.46,210.23 L591.81,210.95 L593.16,211.67 L594.51,212.39 L595.86,213.10 L597.21,213.82 L598.56,214.52 L599.91,215.23 L601.27,215.94 L602.62,216.64 L603.97,217.34 L605.32,218.04 L606.67,218.73 L608.02,219.43 L609.37,220.12 L610.72,220.80 L612.07,221.49 L613.42,222.18 L614.77,222.86 L616.12,223.54 L617.47,224.21 L618.83,224.89 L620.18,225.56 L621.53,226.23 L622.88,226.90 L624.23,227.57 L625.58,228.24 L626.93,228.90 L628.28,229.56 L629.63,230.22 L630.98,230.88 L632.33,231.53 L633.68,232.19 L635.03,232.84 L636.38,233.49 L637.74,234.13 L639.09,234.78 L640.44,235.42 L641.79,236.06 L643.14,236.70 L644.49,237.34 L645.84,237.98 L647.19,238.61 L648.54,239.25 L649.89,239.88 L651.24,240.51 L652.59,241.14 L653.94,241.76 L655.30,242.39 L656.65,243.01 L658.00,243.63 L659.35,244.25 L660.70,244.87 L662.05,245.48 L663.40,246.10" fill="none" stroke="#ff00ff" stroke-width="5.800000000000001" stroke-dasharray="0.75 0.99 0.74 1.50 0.89 1.36 0.92 1.32 0.72 0.84 1.40 1.17 0.68 1.43 1.23 0.96 1.08 1.14 1.02 0.82 0.63 1.79 1.29 1.29 1.05 1.06 1.22 1.23 1.36 1.57 1.26 1.76 0.80 0.84 0.76 0.98 0.67 0.85 1.05 1.67 0.97 1.75 1.33 0.86 1.08 1.20 0.70 1.76 0.81 1.36 1.11 1.76 1.14 1.19 0.96 0.96 1.37 1.79 0.78 0.84 0.80 1.15 1.32 1.70 1.27 0.85 1.23 1.51 1.12 1.79 0.64 0.94 1.20 1.74 1.14 1.10 1.07 1.56 0.68 1.12" stroke-linejoin="round"/>
<path d="M394.60,45.50 L395.95,48.82 L397.30,51.21 L398.65,53.42 L400.00,55.54 L401.35,57.58 L402.70,59.57 L404.06,61.50 L405.41,63.40 L406.76,65.26 L408.11,67.08 L409.46,68.87 L410.81,70.64 L412.16,72.37 L413.51,74.08 L414.86,75.77 L416.21,77.43 L417.56,79.07 L418.91,80.69 L420.26,82.28 L421.62,83.86 L422.97,85.42 L424.32,86.96 L425.67,88.48 L427.02,89.99 L428.37,91.48 L429.72,92.95 L431.07,94.40 L432.42,95.84 L433.77,97.27 L435.12,98.68 L436.47,100.08 L437.82,101.46 L439.17,102.83 L440.53,104.19 L441.88,105.53 L443.23,106.87 L444.58,108.19 L445.93,109.49 L447.28,110.79 L448.63,112.08 L449.98,113.35 L451.33,114.61 L452.68,115.86 L454.03,117.11 L455.38,118.34 L456.73,119.56 L458.09,120.77 L459.44,121.97 L460.79,123.17 L462.14,124.35 L463.49,125.52 L464.84,126.69 L466.19,127.85 L467.54,128.99 L468.89,130.13 L470.24,131.27 L471.59,132.39 L472.94,133.51 L474.29,134.61 L475.65,135.71 L477.00,136.81 L478.35,137.89 L479.70,138.97 L481.05,140.04 L482.40,141.10 L483.75,142.16 L485.10,143.21 L486.45,144.25 L487.80,145.29 L489.15,146.32 L490.50,147.34 L491.85,148.36 L493.21,149.37 L494.56,150.38 L495.91,151.38 L497.26,152.37 L498.61,153.36 L499.96,154.34 L501.31,155.31 L502.66,156.28 L504.01,157.25 L505.36,158.21 L506.71,159.16 L508.06,160.11 L509.41,161.05 L510.76,161.99 L512.12,162.92 L513.47,163.85 L514.82,164.78 L516.17,165.69 L517.52,166.61 L518.87,167.52 L520.22,168.42 L521.57,169.32 L522.92,170.22 L524.27,171.11 L525.62,171.99 L526.97,172.88 L528.32,173.75 L529.68,174.63 L531.03,175.50 L532.38,176.36 L533.73,177.22 L535.08,178.08 L536.43,178.93 L537.78,179.78 L539.13,180.62 L540.48,181.47 L541.83,182.30 L543.18,183.14 L544.53,183.97 L545.88,184.79 L547.24,185.61 L548.59,186.43 L549.94,187.25 L551.29,188.06 L552.64,188.87 L553.99,189.67 L555.34,190.47 L556.69,191.27 L558.04,192.07 L559.39,192.86 L560.74,193.65 L562.09,194.43 L563.44,195.21 L564.79,195.99 L566.15,196.77 L567.50,197.54 L568.85,198.31 L570.20,199.08 L571.55,199.84 L572.90,200.60 L574.25,201.36 L575.60,202.11 L576.95,202.86 L578.30,203.61 L579.65,204.36 L581.00,205.10 L582.35,205.84 L583.71,206.58 L585.06,207.32 L586.41,208.05 L587.76,208.78 L589.11,209.51 L590.46,210.23 L591.81,210.95 L593.16,211.67 L594.51,212.39 L595.86,213.10 L597.21,213.82 L598.56,214.52 L599.91,215.23 L601.27,215.94 L602.62,216.64 L603.97,217.34 L605.32,218.04 L606.67,218.73 L608.02,219.43 L609.37,220.12 L610.72,220.80 L612.07,221.49 L613.42,222.18 L614.77,222.86 L616.12,223.54 L617.47,224.21 L618.83,224.89 L620.18,225.56 L621.53,226.23 L622.88,226.90 L624.23,227.57 L625.58,228.24 L626.93,228.90 L628.28,229.56 L629.63,230.22 L630.98,230.88 L632.33,231.53 L633.68,232.19 L635.03,232.84 L636.38,233.49 L637.74,234.13 L639.09,234.78 L640.44,235.42 L641.79,236.06 L643.14,236.70 L644.49,237.34 L645.84,237.98 L647.19,238.61 L648.54,239.25 L649.89,239.88 L651.24,240.51 L652.59,241.14 L653.94,241.76 L655.30,242.39 L656.65,243.01 L658.00,243.63 L659.35,244.25 L660.70,244.87 L662.05,245.48 L663.40,246.10" fill="none" stroke="#ff00ff" stroke-width="4.2" stroke-linejoin="round" stroke-linecap="round"/>
<path d="M392.00,46.40 L397.20,46.40 L394.60,41.60 Z" fill="#0000ff"/>
<path d="M391.15,42.82 L398.45,42.82 L394.80,47.67 Z" fill="#ff00ff"/>
<path d="M660.15,222.38 L666.65,222.38 L663.40,216.38 Z" fill="#0000ff"/>
<circle cx="663.40" cy="232.26" r="2.30" fill="#008000"/>
<path d="M659.75,243.72 L667.06,243.72 L663.40,248.56 Z" fill="#ff00ff"/>
<path d="M387.1,31.6 V260.75 H671.2 V31.6 H387.1" fill="none" stroke="#555" stroke-width="1.7"/>
<path d="M394.60,260.75 v-3.8 M433.00,260.75 v-3.8 M471.40,260.75 v-3.8 M509.80,260.75 v-3.8 M548.20,260.75 v-3.8 M586.60,260.75 v-3.8 M625.00,260.75 v-3.8 M663.40,260.75 v-3.8 M413.80,260.75 v-1.5 M452.20,260.75 v-1.5 M490.60,260.75 v-1.5 M529.00,260.75 v-1.5 M567.40,260.75 v-1.5 M605.80,260.75 v-1.5 M644.20,260.75 v-1.5 M387.1,46.10 h3.3 M387.1,74.75 h3.3 M387.1,103.40 h3.3 M387.1,132.05 h3.3 M387.1,160.70 h3.3 M387.1,189.35 h3.3 M387.1,218.00 h3.3 M387.1,246.65 h3.3 M387.1,60.42 h1.5 M387.1,89.07 h1.5 M387.1,117.72 h1.5 M387.1,146.38 h1.5 M387.1,175.02 h1.5 M387.1,203.67 h1.5 M387.1,232.32 h1.5" stroke="#1a1a1a" stroke-width="1" fill="none"/>
<text x="394.60" y="276" text-anchor="middle" font-family='"Liberation Serif", serif' font-size="12" fill="#222">0</text>
<text x="433.00" y="276" text-anchor="middle" font-family='"Liberation Serif", serif' font-size="12" fill="#222">1</text>
<text x="471.40" y="276" text-anchor="middle" font-family='"Liberation Serif", serif' font-size="12" fill="#222">2</text>
<text x="509.80" y="276" text-anchor="middle" font-family='"Liberation Serif", serif' font-size="12" fill="#222">3</text>
<text x="548.20" y="276" text-anchor="middle" font-family='"Liberation Serif", serif' font-size="12" fill="#222">4</text>
<text x="586.60" y="276" text-anchor="middle" font-family='"Liberation Serif", serif' font-size="12" fill="#222">5</text>
<text x="625.00" y="276" text-anchor="middle" font-family='"Liberation Serif", serif' font-size="12" fill="#222">6</text>
<text x="663.40" y="276" text-anchor="middle" font-family='"Liberation Serif", serif' font-size="12" fill="#222">7</text>
<text x="382.8" y="48.90" text-anchor="end" font-family='"Liberation Serif", serif' font-size="12" fill="#222">0</text>
<text x="382.8" y="77.55" text-anchor="end" font-family='"Liberation Serif", serif' font-size="12" fill="#222">-1</text>
<text x="382.8" y="106.20" text-anchor="end" font-family='"Liberation Serif", serif' font-size="12" fill="#222">-2</text>
<text x="382.8" y="134.85" text-anchor="end" font-family='"Liberation Serif", serif' font-size="12" fill="#222">-3</text>
<text x="382.8" y="163.50" text-anchor="end" font-family='"Liberation Serif", serif' font-size="12" fill="#222">-4</text>
<text x="382.8" y="192.15" text-anchor="end" font-family='"Liberation Serif", serif' font-size="12" fill="#222">-5</text>
<text x="382.8" y="220.80" text-anchor="end" font-family='"Liberation Serif", serif' font-size="12" fill="#222">-6</text>
<text x="382.8" y="249.45" text-anchor="end" font-family='"Liberation Serif", serif' font-size="12" fill="#222">-7</text>
<text transform="translate(366.3,145.6) rotate(-90)" text-anchor="middle" font-family='"Liberation Serif", serif' font-size="14.5" fill="#111"><tspan font-weight="bold">MR</tspan> (%)</text>
<text x="499.5" y="292.3" font-family='"Liberation Serif", serif' font-size="15.2" font-weight="bold" fill="#111">μ<tspan font-size="8.5" dx="-2.6" dy="4.6">0</tspan><tspan dx="-0.6" dy="-4.6">H (T)</tspan></text>
<text x="430.6" y="59.2" font-family='"Liberation Serif", serif' font-size="14" letter-spacing="-0.6" fill="#111">T = 200 K</text>
<path d="M402,168.5 H433.5" stroke="#000" stroke-width="1"/>
<rect x="416.00" y="166.21" width="4.59" height="4.59" fill="#000"/>
<text x="437.2" y="172.80" font-family='"Liberation Serif", serif' fill="#000" xml:space="preserve"><tspan font-size="13.5" letter-spacing="-0.35">t = 50</tspan><tspan font-size="12" letter-spacing="-0.2"> nm</tspan></text>
<path d="M402,186.0 H433.5" stroke="#ff0000" stroke-width="1"/>
<path d="M415.54,183.24 L421.06,188.76 M415.54,188.76 L421.06,183.24" stroke="#ff0000" stroke-width="0.9"/>
<text x="437.2" y="190.30" font-family='"Liberation Serif", serif' fill="#000" xml:space="preserve"><tspan font-size="13.5" letter-spacing="-0.35">t = 25</tspan><tspan font-size="12" letter-spacing="-0.2"> nm</tspan></text>
<path d="M402,203.7 H433.5" stroke="#0000ff" stroke-width="1"/>
<path d="M414.92,206.56 L421.68,206.56 L418.30,200.32 Z" fill="#0000ff"/>
<text x="437.2" y="208.00" font-family='"Liberation Serif", serif' fill="#000" xml:space="preserve"><tspan font-size="13.5" letter-spacing="-0.35">t = 15</tspan><tspan font-size="12" letter-spacing="-0.2"> nm</tspan></text>
<path d="M402,221.3 H433.5" stroke="#008000" stroke-width="1"/>
<path d="M418.30,218.96 L420.64,221.30 L418.30,223.64 L415.96,221.30 Z" fill="#008000"/>
<text x="437.2" y="225.60" font-family='"Liberation Serif", serif' fill="#000" xml:space="preserve"><tspan font-size="13.5" letter-spacing="-0.35">t =  8</tspan><tspan font-size="12" letter-spacing="-0.2"> nm</tspan></text>
<path d="M402,238.9 H433.5" stroke="#ff00ff" stroke-width="1"/>
<path d="M414.00,236.10 L422.60,236.10 L418.30,241.80 Z" fill="#ff00ff"/>
<text x="437.2" y="243.20" font-family='"Liberation Serif", serif' fill="#000" xml:space="preserve"><tspan font-size="13.5" letter-spacing="-0.35">t =  5</tspan><tspan font-size="12" letter-spacing="-0.2"> nm</tspan></text>
<rect x="523" y="0" width="165" height="134" fill="#fff"/>
<rect x="555.5" y="1.5" width="130.00" height="109.00" fill="none" stroke="#111" stroke-width="1"/>
<path d="M555.40,110.5 v-2 M580.44,110.5 v-2 M605.48,110.5 v-2 M630.52,110.5 v-2 M655.56,110.5 v-2 M680.60,110.5 v-2 M555.5,110.00 h2 M555.5,84.00 h2 M555.5,58.00 h2 M555.5,32.00 h2 M555.5,6.00 h2" stroke="#111" stroke-width="0.8" fill="none"/>
<text x="555.40" y="118.3" text-anchor="middle" font-family='"Liberation Sans", sans-serif' font-size="6.5" fill="#333">0</text>
<text x="580.44" y="118.3" text-anchor="middle" font-family='"Liberation Sans", sans-serif' font-size="6.5" fill="#333">10</text>
<text x="605.48" y="118.3" text-anchor="middle" font-family='"Liberation Sans", sans-serif' font-size="6.5" fill="#333">20</text>
<text x="630.52" y="118.3" text-anchor="middle" font-family='"Liberation Sans", sans-serif' font-size="6.5" fill="#333">30</text>
<text x="655.56" y="118.3" text-anchor="middle" font-family='"Liberation Sans", sans-serif' font-size="6.5" fill="#333">40</text>
<text x="680.60" y="118.3" text-anchor="middle" font-family='"Liberation Sans", sans-serif' font-size="6.5" fill="#333">50</text>
<text x="552.6" y="112.30" text-anchor="end" font-family='"Liberation Sans", sans-serif' font-size="6.5" fill="#333">5.0</text>
<text x="552.6" y="86.30" text-anchor="end" font-family='"Liberation Sans", sans-serif' font-size="6.5" fill="#333">5.5</text>
<text x="552.6" y="60.30" text-anchor="end" font-family='"Liberation Sans", sans-serif' font-size="6.5" fill="#333">6.0</text>
<text x="552.6" y="34.30" text-anchor="end" font-family='"Liberation Sans", sans-serif' font-size="6.5" fill="#333">6.5</text>
<text x="552.6" y="8.30" text-anchor="end" font-family='"Liberation Sans", sans-serif' font-size="6.5" fill="#333">7.0</text>
<path d="M567.00,5.20 L567.95,9.32 L568.90,13.17 L569.85,16.65 L570.80,19.71 L571.75,22.48 L572.70,25.05 L573.65,27.51 L574.60,29.97 L575.55,32.49 L576.50,35.06 L577.45,37.61 L578.39,40.09 L579.34,42.43 L580.29,44.57 L581.24,46.46 L582.19,48.19 L583.14,49.83 L584.09,51.38 L585.04,52.85 L585.99,54.25 L586.94,55.58 L587.89,56.85 L588.84,58.07 L589.79,59.25 L590.74,60.38 L591.69,61.46 L592.64,62.51 L593.59,63.52 L594.54,64.49 L595.49,65.43 L596.44,66.33 L597.39,67.21 L598.34,68.06 L599.29,68.89 L600.24,69.70 L601.18,70.49 L602.13,71.26 L603.08,72.01 L604.03,72.75 L604.98,73.47 L605.93,74.17 L606.88,74.85 L607.83,75.51 L608.78,76.16 L609.73,76.78 L610.68,77.39 L611.63,77.98 L612.58,78.55 L613.53,79.10 L614.48,79.65 L615.43,80.18 L616.38,80.70 L617.33,81.20 L618.28,81.69 L619.23,82.16 L620.18,82.62 L621.13,83.06 L622.08,83.48 L623.03,83.89 L623.97,84.27 L624.92,84.65 L625.87,85.01 L626.82,85.36 L627.77,85.70 L628.72,86.03 L629.67,86.34 L630.62,86.66 L631.57,86.96 L632.52,87.25 L633.47,87.54 L634.42,87.83 L635.37,88.11 L636.32,88.38 L637.27,88.65 L638.22,88.91 L639.17,89.17 L640.12,89.42 L641.07,89.67 L642.02,89.91 L642.97,90.14 L643.92,90.37 L644.87,90.60 L645.82,90.82 L646.76,91.04 L647.71,91.25 L648.66,91.46 L649.61,91.66 L650.56,91.86 L651.51,92.06 L652.46,92.26 L653.41,92.45 L654.36,92.63 L655.31,92.82 L656.26,93.00 L657.21,93.18 L658.16,93.36 L659.11,93.54 L660.06,93.71 L661.01,93.88 L661.96,94.05 L662.91,94.23 L663.86,94.39 L664.81,94.56 L665.76,94.73 L666.71,94.89 L667.66,95.05 L668.61,95.22 L669.55,95.37 L670.50,95.53 L671.45,95.69 L672.40,95.84 L673.35,95.99 L674.30,96.14 L675.25,96.29 L676.20,96.44 L677.15,96.58 L678.10,96.72 L679.05,96.86 L680.00,97.00" fill="none" stroke="#111" stroke-width="0.8"/>
<rect x="564.80" y="3.00" width="4.4" height="4.4" fill="#000"/>
<rect x="572.60" y="28.10" width="4.4" height="4.4" fill="#000"/>
<rect x="590.10" y="51.80" width="4.4" height="4.4" fill="#000"/>
<rect x="614.60" y="83.00" width="4.4" height="4.4" fill="#000"/>
<rect x="678.10" y="95.80" width="4.4" height="4.4" fill="#000"/>
<text transform="translate(648.3,24) scale(1.06,1)" text-anchor="middle" font-family='"Liberation Serif", serif' font-size="7.7" font-weight="bold" fill="#111">T = 200 K</text>
<text x="624.8" y="38.6" font-family='"Liberation Serif", serif' font-size="8.3" font-weight="bold" fill="#111">μ<tspan font-size="5" dx="-1.4" dy="2.6">0</tspan><tspan dy="-2.6">H = 7 Tesla</tspan></text>
<text x="621.3" y="129" text-anchor="middle" font-family='"Liberation Serif", serif' font-size="8.5" font-weight="bold" fill="#111">t (nm)</text>
<text transform="translate(535.4,58.2) rotate(-90)" text-anchor="middle" font-family='"Liberation Serif", serif' font-size="9.4" font-weight="bold" fill="#111">Absolute value MR (%)</text>
</svg></body></html>
